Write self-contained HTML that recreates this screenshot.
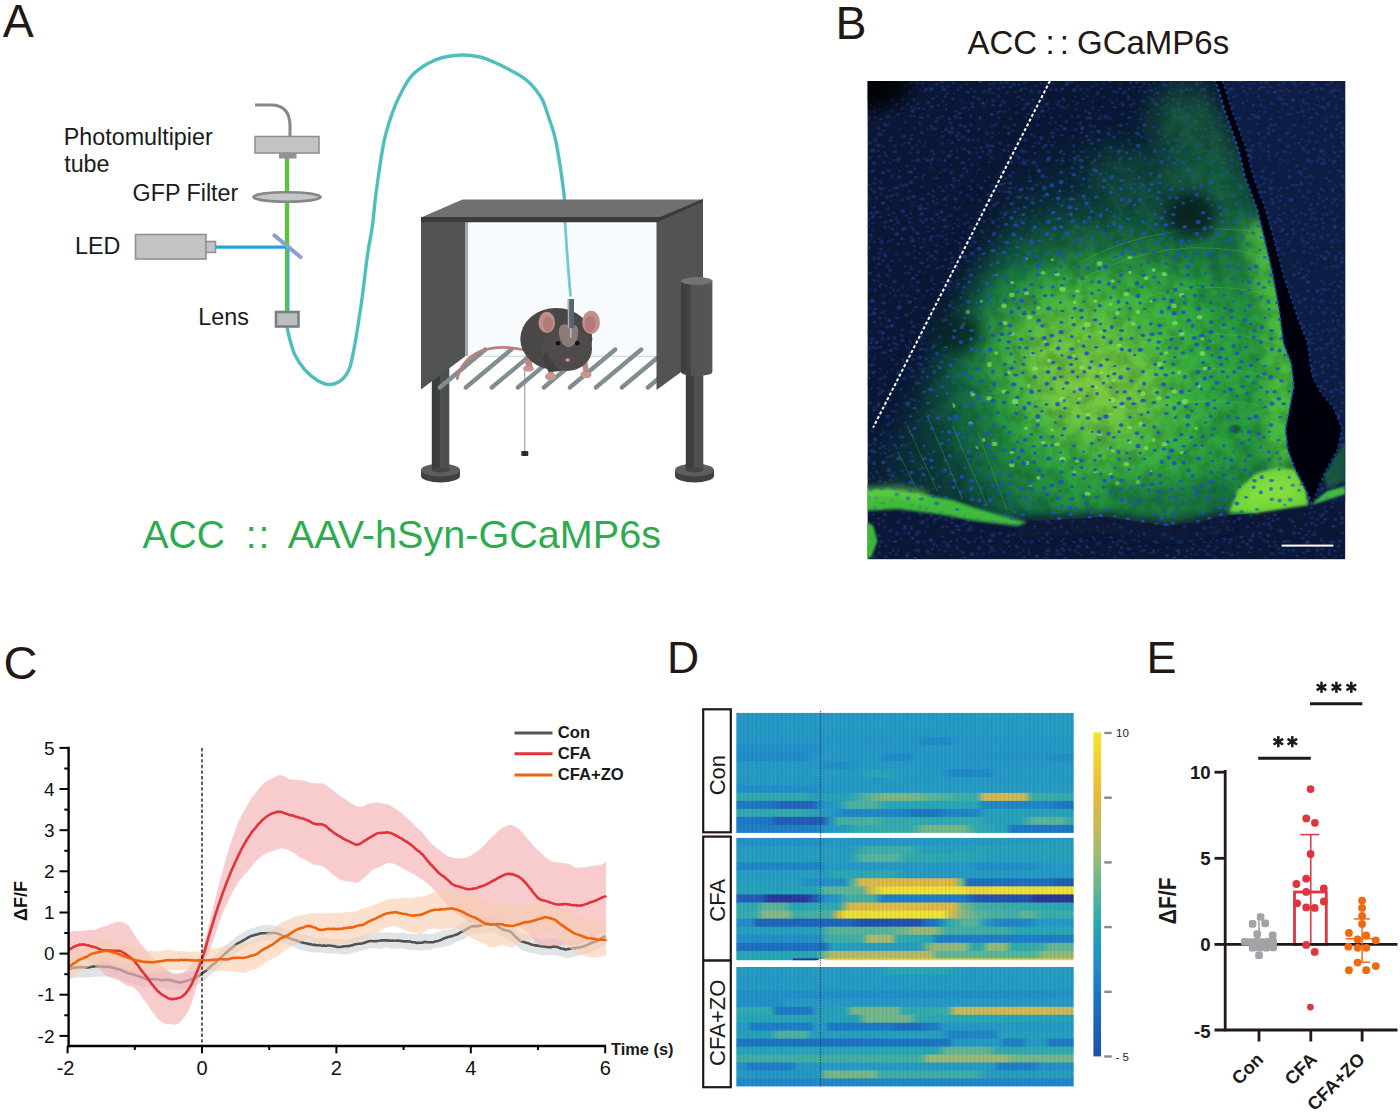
<!DOCTYPE html>
<html><head><meta charset="utf-8"><title>Figure</title>
<style>
html,body{margin:0;padding:0;background:#fff;}
body{width:1400px;height:1114px;overflow:hidden;font-family:"Liberation Sans",sans-serif;}
svg{display:block;font-family:"Liberation Sans",sans-serif;}
</style></head><body>
<svg width="1400" height="1114" viewBox="0 0 1400 1114">
<rect width="1400" height="1114" fill="#fff"/>
<g id="pA">
<text x="2.8" y="37" font-size="46.5" fill="#231815">A</text>
<g font-size="23.3" fill="#1a1a1a">
<text x="63.8" y="145">Photomultipier</text>
<text x="64.2" y="171.5">tube</text>
<text x="132.6" y="200.6">GFP Filter</text>
<text x="75" y="253.6">LED</text>
<text x="198.3" y="324.6">Lens</text>
</g>
<path d="M287.0,326.8 C287.5,329.0 288.7,335.3 290.0,340.0 C291.3,344.7 292.5,350.0 295.0,355.0 C297.5,360.0 301.2,365.8 305.0,370.0 C308.8,374.2 313.5,378.1 317.5,380.5 C321.5,382.9 325.1,384.4 328.8,384.5 C332.6,384.6 336.7,383.6 340.0,381.2 C343.3,378.8 346.5,375.2 348.8,370.0 C351.1,364.8 352.1,358.3 353.8,350.0 C355.5,341.7 357.4,329.2 358.8,320.0 C360.2,310.8 361.1,305.8 362.5,295.0 C363.9,284.2 365.8,266.7 367.5,255.0 C369.2,243.3 371.1,235.5 372.5,225.0 C373.9,214.5 374.3,205.8 376.2,192.0 C378.1,178.2 381.1,155.8 383.8,142.5 C386.5,129.2 389.4,121.2 392.5,112.5 C395.6,103.8 399.2,96.2 402.5,90.0 C405.8,83.8 408.3,79.4 412.5,75.0 C416.7,70.6 422.5,66.7 427.5,63.8 C432.5,60.9 436.7,59.0 442.5,57.5 C448.3,56.0 456.2,55.1 462.5,55.0 C468.8,54.9 474.6,55.8 480.0,57.0 C485.4,58.2 490.0,60.3 495.0,62.5 C500.0,64.7 505.0,67.3 510.0,70.0 C515.0,72.7 520.8,75.7 525.0,78.8 C529.2,81.9 532.1,85.3 535.0,88.8 C537.9,92.3 540.2,95.2 542.5,100.0 C544.8,104.8 546.7,111.2 548.8,117.5 C550.9,123.8 553.1,129.6 555.0,137.5 C556.9,145.4 558.5,155.8 560.0,165.0 C561.5,174.2 563.0,186.2 563.8,192.5 C564.6,198.8 564.5,201.2 564.6,203.0" fill="none" stroke="#4fbfbd" stroke-width="3.4" stroke-linecap="round"/>
<path d="M255,105 H271 Q290,105 290,126 V137" fill="none" stroke="#85888b" stroke-width="3"/>
<rect x="284.8" y="157" width="4.4" height="155" fill="#5fc044"/>
<rect x="287.2" y="247" width="2.2" height="65" fill="#3fb3c0"/>
<rect x="255" y="136.5" width="64" height="16.5" fill="#c3c3c3" stroke="#8f9294" stroke-width="1.6"/>
<rect x="279" y="153" width="17.5" height="5.5" fill="#8f9294"/>
<ellipse cx="287" cy="197" rx="33.5" ry="4.8" fill="#c6c6c6" stroke="#85888b" stroke-width="2.6"/>
<rect x="135.5" y="234.5" width="70.5" height="24.5" fill="#c3c3c3" stroke="#8f9294" stroke-width="1.6"/>
<rect x="206" y="241.5" width="9.5" height="11" fill="#c3c3c3" stroke="#8f9294" stroke-width="1.6"/>
<rect x="216" y="245.5" width="71.5" height="3.2" fill="#1ea4d8"/>
<line x1="274.5" y1="235.5" x2="300.5" y2="257" stroke="#8fa0cf" stroke-width="4.2" stroke-linecap="round"/>
<rect x="276" y="312" width="22.5" height="14.5" fill="#bebebe" stroke="#7c7f82" stroke-width="2.6"/>
<defs><linearGradient id="cylg" x1="0" x2="1" y1="0" y2="0"><stop offset="0" stop-color="#3b3d3d"/><stop offset="0.3" stop-color="#444646"/><stop offset="0.32" stop-color="#525454"/><stop offset="1" stop-color="#545656"/></linearGradient>
<linearGradient id="legg" x1="0" x2="1" y1="0" y2="0"><stop offset="0" stop-color="#3a3c3c"/><stop offset="0.45" stop-color="#3e4040"/><stop offset="0.5" stop-color="#505252"/><stop offset="1" stop-color="#4c4e4e"/></linearGradient></defs>
<path d="M421.0,470 v6 a19.5,6.5 0 0 0 39,0 v-6 z" fill="#3f4141"/>
<ellipse cx="440.5" cy="470" rx="19.5" ry="6.5" fill="#5d5f5f"/>
<rect x="431.8" y="360" width="17.5" height="110" fill="url(#legg)"/>
<ellipse cx="440.5" cy="470" rx="8.75" ry="2.6" fill="#444646"/>
<rect x="465" y="221" width="192" height="136" fill="#f7fbfd"/>
<rect x="465" y="222" width="3" height="134" fill="#a3a9ac"/>
<line x1="468" y1="356.3" x2="656" y2="356.3" stroke="#d3d9dc" stroke-width="1.2"/>
<path d="M565.0,221.0 C565.2,224.2 565.8,233.8 566.2,240.0 C566.6,246.2 567.0,251.7 567.5,258.0 C568.0,264.3 568.5,271.6 569.0,278.0 C569.5,284.4 570.3,293.4 570.6,296.5" fill="none" stroke="#74c9cc" stroke-width="2.8"/>
<polygon points="421,221 465,221 465,356.5 421,389.5" fill="#525454"/>
<line x1="439.8" y1="387.5" x2="485.3" y2="349.5" stroke="#7f8e8e" stroke-width="4.3" stroke-linecap="round"/>
<line x1="465.8" y1="387.5" x2="511.3" y2="349.5" stroke="#7f8e8e" stroke-width="4.3" stroke-linecap="round"/>
<line x1="491.8" y1="387.5" x2="537.3" y2="349.5" stroke="#7f8e8e" stroke-width="4.3" stroke-linecap="round"/>
<line x1="517.8" y1="387.5" x2="563.3" y2="349.5" stroke="#7f8e8e" stroke-width="4.3" stroke-linecap="round"/>
<line x1="543.8" y1="387.5" x2="589.3" y2="349.5" stroke="#7f8e8e" stroke-width="4.3" stroke-linecap="round"/>
<line x1="569.8" y1="387.5" x2="615.3" y2="349.5" stroke="#7f8e8e" stroke-width="4.3" stroke-linecap="round"/>
<line x1="595.8" y1="387.5" x2="641.3" y2="349.5" stroke="#7f8e8e" stroke-width="4.3" stroke-linecap="round"/>
<line x1="621.8" y1="387.5" x2="667.3" y2="349.5" stroke="#7f8e8e" stroke-width="4.3" stroke-linecap="round"/>
<line x1="647.8" y1="387.5" x2="693.3" y2="349.5" stroke="#7f8e8e" stroke-width="4.3" stroke-linecap="round"/>
<polygon points="656.5,221 703,199.5 703,356 656.5,390" fill="#525454"/>
<polygon points="421,217.5 462.5,199.5 703,199.5 659,217.5" fill="#707070"/>
<polygon points="421,217 659.5,217 703,199 703,201.5 657,222.3 421,222.3" fill="#3a3c3c"/>
<path d="M675.0,470 v6 a19.5,6.5 0 0 0 39,0 v-6 z" fill="#3f4141"/>
<ellipse cx="694.5" cy="470" rx="19.5" ry="6.5" fill="#5d5f5f"/>
<rect x="685.8" y="370" width="17.5" height="100" fill="url(#legg)"/>
<ellipse cx="694.5" cy="470" rx="8.75" ry="2.6" fill="#444646"/>
<path d="M681,281 V372 a15.7,4 0 0 0 31.4,0 V281 z" fill="url(#cylg)"/>
<ellipse cx="696.7" cy="281" rx="15.7" ry="4" fill="#727474"/>
<path d="M522,349.5 C508,346.5 492,347 480,351.5 C468,356.5 459.5,367 457.3,378.5" fill="none" stroke="#b9817b" stroke-width="2.8" stroke-linecap="round"/>
<line x1="524.8" y1="368" x2="524.8" y2="452" stroke="#8c8c8c" stroke-width="1"/>
<rect x="521.3" y="451" width="7" height="5" rx="1" fill="#2e2e2e"/>
<ellipse cx="528.5" cy="368.5" rx="5.5" ry="3.2" fill="#c99590"/>
<ellipse cx="550.5" cy="376.5" rx="5.5" ry="4" fill="#c99590"/>
<ellipse cx="586" cy="374.5" rx="5.5" ry="3.8" fill="#c99590"/>
<path d="M546,362 l2.5,12 h5 l-0.5,-12z M581,360 l2.5,12 h5.5 l-2,-13z M524,360 l2.5,7 h6 l-1,-8z" fill="#bd8a86"/>
<ellipse cx="556.3" cy="339" rx="36" ry="31" fill="#4a4747"/>
<ellipse cx="567" cy="349" rx="25" ry="22" fill="#4f4b4b"/>
<path d="M546,352 q6,14 16,19 l-13,1 q-6,-8 -6,-16z" fill="#423f3f"/>
<ellipse cx="546.8" cy="322.4" rx="8.3" ry="10.6" fill="#c38e8a"/>
<ellipse cx="548" cy="324" rx="5" ry="7.5" fill="#b27b78"/>
<ellipse cx="591" cy="322.4" rx="8.9" ry="11.6" fill="#c38e8a"/>
<ellipse cx="590" cy="324" rx="5.4" ry="8" fill="#b27b78"/>
<path d="M559,330 q0,-5 5,-5.5 h9 q5,0.5 5,5.5 q0.5,8 -3,13 q-3,4 -6.5,4 q-3.500,0 -6.500,-4 q-3.500,-5 -3,-13z" fill="#8c7b79"/>
<circle cx="558" cy="343.3" r="2.3" fill="#111"/><circle cx="577.3" cy="343.3" r="2.3" fill="#111"/>
<ellipse cx="567.6" cy="360" rx="2.4" ry="1.7" fill="#d38f8f"/>
<rect x="567.8" y="299" width="6.2" height="29.500" fill="#5c636b"/>
<rect x="567.8" y="299" width="1.4" height="29.500" fill="#aab0b6"/>
<line x1="570.8" y1="328" x2="570.8" y2="338" stroke="#b9b9b9" stroke-width="1.6"/>
<g font-size="39" fill="#2eab4f">
<text x="142.5" y="548">ACC</text><text x="245.8" y="548">:</text><text x="258.6" y="548">:</text><text x="287.8" y="548" font-size="39.6">AAV-hSyn-GCaMP6s</text>
</g>
</g>
<g id="pB">
<text x="835.5" y="38.8" font-size="46.5" fill="#231815">B</text>
<g font-size="33" fill="#231815"><text x="967.5" y="54">ACC</text><text x="1045.6" y="54">:</text><text x="1059.8" y="54">:</text><text x="1077" y="54">GCaMP6s</text></g>
<svg x="867.4" y="81" width="478" height="478.4" viewBox="0 0 478 478.4" overflow="hidden">
<defs>
<filter id="fBlur14" filterUnits="userSpaceOnUse" x="-80" y="-80" width="640" height="640"><feGaussianBlur stdDeviation="14"/></filter>
<filter id="fBlur8" filterUnits="userSpaceOnUse" x="-80" y="-80" width="640" height="640"><feGaussianBlur stdDeviation="8"/></filter>
<filter id="fBlur4" filterUnits="userSpaceOnUse" x="-80" y="-80" width="640" height="640"><feGaussianBlur stdDeviation="4"/></filter>
<filter id="fBlur2" filterUnits="userSpaceOnUse" x="-80" y="-80" width="640" height="640"><feGaussianBlur stdDeviation="1.6"/></filter>
<filter id="fBlur05" x="0" y="0" width="100%" height="100%"><feGaussianBlur stdDeviation="0.55"/></filter>
<filter id="fBlur1" x="-5%" y="-5%" width="110%" height="110%"><feGaussianBlur stdDeviation="0.8"/></filter>
<filter id="spkBlue" x="0" y="0" width="100%" height="100%" color-interpolation-filters="sRGB">
 <feTurbulence type="fractalNoise" baseFrequency="0.17" numOctaves="1" seed="7" result="n"/>
 <feColorMatrix in="n" type="matrix" values="0 0 0 0 0.12  0 0 0 0 0.33  0 0 0 0 0.82  7 0 0 0 -4.12"/>
 <feGaussianBlur stdDeviation="0.5"/>
</filter>
<filter id="spkGray" x="0" y="0" width="100%" height="100%" color-interpolation-filters="sRGB">
 <feTurbulence type="fractalNoise" baseFrequency="0.19" numOctaves="1" seed="23" result="n"/>
 <feColorMatrix in="n" type="matrix" values="0 0 0 0 0.13  0 0 0 0 0.19  0 0 0 0 0.44  0 5 0 0 -2.66"/>
 <feGaussianBlur stdDeviation="0.5"/>
</filter>
<filter id="gtex" x="0" y="0" width="100%" height="100%" color-interpolation-filters="sRGB">
 <feTurbulence type="fractalNoise" baseFrequency="0.07" numOctaves="3" seed="11" result="n"/>
 <feColorMatrix in="n" type="matrix" values="0 0 0 0 0.02  0 0 0 0 0.10  0 0 0 0 0.10  0 0 2.6 0 -1.0"/>
</filter>
<filter id="gbright" x="0" y="0" width="100%" height="100%" color-interpolation-filters="sRGB">
 <feTurbulence type="fractalNoise" baseFrequency="0.11" numOctaves="2" seed="31" result="n"/>
 <feColorMatrix in="n" type="matrix" values="0 0 0 0 0.62  0 0 0 0 0.95  0 0 0 0 0.35  8 0 0 0 -5.1"/>
</filter>
<radialGradient id="gHalo" cx="245" cy="300" r="275" gradientUnits="userSpaceOnUse"><stop offset="0" stop-color="#12603a" stop-opacity="0.85"/><stop offset="0.6" stop-color="#115a3a" stop-opacity="0.75"/><stop offset="0.85" stop-color="#0e4a3c" stop-opacity="0.4"/><stop offset="1" stop-color="#0b3a40" stop-opacity="0"/></radialGradient>
<radialGradient id="gMain" cx="266" cy="300" r="222" gradientUnits="userSpaceOnUse">
 <stop offset="0" stop-color="#44bc43"/><stop offset="0.30" stop-color="#34ad40"/><stop offset="0.56" stop-color="#289c3e"/><stop offset="0.74" stop-color="#1a7c40" stop-opacity="0.9"/><stop offset="0.88" stop-color="#0f5842" stop-opacity="0.5"/><stop offset="1" stop-color="#0b3a40" stop-opacity="0"/>
</radialGradient>
<radialGradient id="gCore" cx="222" cy="295" r="128" gradientUnits="userSpaceOnUse" gradientTransform="translate(222 295) rotate(40) scale(1 0.8) translate(-222 -295)">
 <stop offset="0" stop-color="#80cc40" stop-opacity="1"/><stop offset="0.45" stop-color="#70c840" stop-opacity="0.9"/><stop offset="0.72" stop-color="#54bd40" stop-opacity="0.5"/><stop offset="1" stop-color="#40b840" stop-opacity="0"/>
</radialGradient>
<radialGradient id="dspot"><stop offset="0" stop-color="#08201f" stop-opacity="0.96"/><stop offset="0.45" stop-color="#08221f" stop-opacity="0.85"/><stop offset="1" stop-color="#0a2a2c" stop-opacity="0"/></radialGradient>
<radialGradient id="corner" cx="0" cy="0" r="58" gradientUnits="userSpaceOnUse" gradientTransform="scale(1 0.7)"><stop offset="0" stop-color="#000" stop-opacity="1"/><stop offset="0.5" stop-color="#000" stop-opacity="0.8"/><stop offset="1" stop-color="#000" stop-opacity="0"/></radialGradient>
<pattern id="pdBlue" width="150" height="150" patternUnits="userSpaceOnUse"><g fill="#1f52c4"><ellipse cx="93.4" cy="111.3" rx="1.8" ry="2.1"/><ellipse cx="141.4" cy="111.0" rx="2.2" ry="1.8"/><ellipse cx="4.4" cy="69.8" rx="2.5" ry="2.3"/><ellipse cx="97.3" cy="135.1" rx="1.6" ry="1.1"/><ellipse cx="70.4" cy="37.0" rx="2.4" ry="1.6"/><ellipse cx="86.1" cy="2.0" rx="1.7" ry="1.5"/><ellipse cx="86.1" cy="152.0" rx="1.7" ry="1.5"/><ellipse cx="41.9" cy="137.5" rx="2.0" ry="1.8"/><ellipse cx="23.9" cy="119.6" rx="1.4" ry="1.2"/><ellipse cx="92.6" cy="19.0" rx="1.1" ry="1.3"/><ellipse cx="130.7" cy="31.4" rx="1.6" ry="1.6"/><ellipse cx="147.4" cy="130.9" rx="1.4" ry="1.4"/><ellipse cx="-2.6" cy="130.9" rx="1.4" ry="1.4"/><ellipse cx="144.2" cy="80.9" rx="1.8" ry="2.1"/><ellipse cx="30.7" cy="141.1" rx="2.4" ry="2.1"/><ellipse cx="44.8" cy="54.2" rx="1.6" ry="1.2"/><ellipse cx="21.9" cy="9.8" rx="1.7" ry="1.4"/><ellipse cx="101.7" cy="50.7" rx="1.4" ry="1.5"/><ellipse cx="122.8" cy="72.1" rx="1.6" ry="1.3"/><ellipse cx="72.2" cy="105.7" rx="1.5" ry="1.5"/><ellipse cx="146.3" cy="3.4" rx="2.6" ry="1.9"/><ellipse cx="126.7" cy="2.7" rx="1.8" ry="2.1"/><ellipse cx="126.7" cy="152.7" rx="1.8" ry="2.1"/><ellipse cx="54.9" cy="86.8" rx="1.2" ry="1.3"/><ellipse cx="7.0" cy="27.1" rx="1.9" ry="2.4"/><ellipse cx="29.5" cy="113.4" rx="2.4" ry="2.0"/><ellipse cx="141.3" cy="51.7" rx="1.6" ry="1.6"/><ellipse cx="78.7" cy="116.3" rx="1.9" ry="1.3"/><ellipse cx="112.3" cy="119.6" rx="2.0" ry="2.0"/><ellipse cx="5.5" cy="141.9" rx="1.8" ry="1.3"/><ellipse cx="46.9" cy="47.5" rx="1.7" ry="1.6"/><ellipse cx="11.7" cy="22.3" rx="1.9" ry="2.0"/><ellipse cx="149.5" cy="24.2" rx="1.5" ry="1.1"/><ellipse cx="-0.5" cy="24.2" rx="1.5" ry="1.1"/><ellipse cx="60.9" cy="35.6" rx="1.6" ry="2.0"/><ellipse cx="63.3" cy="8.4" rx="2.3" ry="2.0"/><ellipse cx="125.8" cy="19.6" rx="2.6" ry="1.9"/><ellipse cx="142.5" cy="94.6" rx="2.2" ry="1.8"/><ellipse cx="16.0" cy="65.2" rx="1.8" ry="1.3"/><ellipse cx="126.7" cy="44.2" rx="1.9" ry="1.8"/><ellipse cx="146.4" cy="68.0" rx="2.0" ry="1.5"/><ellipse cx="109.4" cy="71.9" rx="1.5" ry="1.6"/><ellipse cx="60.6" cy="22.0" rx="2.0" ry="1.4"/><ellipse cx="148.3" cy="144.0" rx="2.5" ry="1.6"/><ellipse cx="-1.7" cy="144.0" rx="2.5" ry="1.6"/><ellipse cx="74.9" cy="50.8" rx="1.3" ry="1.1"/><ellipse cx="40.8" cy="117.3" rx="2.2" ry="2.1"/><ellipse cx="54.2" cy="117.9" rx="2.6" ry="1.7"/><ellipse cx="104.2" cy="99.6" rx="2.4" ry="1.6"/><ellipse cx="54.5" cy="105.7" rx="1.8" ry="1.4"/><ellipse cx="103.6" cy="44.1" rx="2.2" ry="1.8"/><ellipse cx="97.5" cy="87.1" rx="1.6" ry="1.1"/><ellipse cx="82.0" cy="37.6" rx="2.3" ry="1.7"/><ellipse cx="69.4" cy="122.5" rx="2.2" ry="1.9"/><ellipse cx="119.6" cy="52.2" rx="2.1" ry="2.0"/><ellipse cx="52.5" cy="126.4" rx="2.7" ry="1.8"/><ellipse cx="103.3" cy="146.4" rx="2.2" ry="2.3"/><ellipse cx="77.7" cy="79.4" rx="1.3" ry="1.3"/><ellipse cx="125.5" cy="140.6" rx="1.8" ry="1.9"/><ellipse cx="103.7" cy="108.0" rx="1.8" ry="2.0"/><ellipse cx="87.1" cy="99.8" rx="2.1" ry="1.7"/><ellipse cx="66.2" cy="97.5" rx="1.3" ry="1.6"/><ellipse cx="33.9" cy="8.1" rx="1.4" ry="1.5"/><ellipse cx="47.6" cy="27.2" rx="1.7" ry="1.4"/><ellipse cx="88.5" cy="35.7" rx="2.7" ry="2.1"/><ellipse cx="0.1" cy="60.8" rx="1.6" ry="1.6"/><ellipse cx="150.1" cy="60.8" rx="1.6" ry="1.6"/><ellipse cx="124.7" cy="56.1" rx="1.5" ry="1.4"/><ellipse cx="81.8" cy="50.9" rx="2.1" ry="1.9"/><ellipse cx="143.7" cy="122.8" rx="1.6" ry="1.6"/><ellipse cx="121.9" cy="96.3" rx="1.4" ry="1.7"/><ellipse cx="21.3" cy="89.4" rx="2.2" ry="1.9"/><ellipse cx="91.3" cy="52.7" rx="1.8" ry="2.0"/><ellipse cx="0.1" cy="16.2" rx="2.0" ry="1.5"/><ellipse cx="150.1" cy="16.2" rx="2.0" ry="1.5"/><ellipse cx="56.4" cy="64.8" rx="1.4" ry="1.6"/><ellipse cx="43.7" cy="145.9" rx="2.1" ry="1.4"/><ellipse cx="144.2" cy="137.1" rx="2.3" ry="1.8"/><ellipse cx="74.4" cy="62.3" rx="1.7" ry="1.6"/><ellipse cx="43.0" cy="71.5" rx="1.4" ry="1.2"/><ellipse cx="93.3" cy="66.5" rx="1.3" ry="1.6"/><ellipse cx="117.3" cy="124.0" rx="1.5" ry="1.3"/><ellipse cx="140.3" cy="117.3" rx="1.7" ry="1.4"/><ellipse cx="40.2" cy="23.2" rx="2.2" ry="2.2"/><ellipse cx="44.0" cy="91.2" rx="1.8" ry="1.7"/><ellipse cx="111.5" cy="17.7" rx="2.4" ry="1.9"/><ellipse cx="45.1" cy="80.0" rx="1.9" ry="1.3"/><ellipse cx="111.8" cy="88.6" rx="1.3" ry="1.4"/><ellipse cx="137.5" cy="133.2" rx="1.7" ry="1.5"/><ellipse cx="2.2" cy="116.8" rx="1.4" ry="1.7"/><ellipse cx="152.2" cy="116.8" rx="1.4" ry="1.7"/><ellipse cx="86.3" cy="106.2" rx="1.7" ry="1.8"/><ellipse cx="72.3" cy="136.8" rx="1.8" ry="1.7"/><ellipse cx="58.8" cy="127.8" rx="1.6" ry="1.4"/><ellipse cx="44.5" cy="124.5" rx="1.2" ry="1.4"/><ellipse cx="125.4" cy="104.2" rx="2.1" ry="1.7"/><ellipse cx="136.6" cy="21.4" rx="2.2" ry="1.7"/><ellipse cx="82.4" cy="74.7" rx="1.9" ry="1.7"/><ellipse cx="121.8" cy="10.3" rx="1.7" ry="1.2"/><ellipse cx="122.9" cy="118.8" rx="2.5" ry="2.1"/><ellipse cx="3.8" cy="108.4" rx="2.1" ry="1.8"/><ellipse cx="7.3" cy="126.3" rx="1.5" ry="1.2"/><ellipse cx="96.9" cy="142.8" rx="2.0" ry="1.6"/><ellipse cx="20.2" cy="43.9" rx="2.0" ry="1.7"/><ellipse cx="93.4" cy="6.5" rx="1.5" ry="1.2"/><ellipse cx="56.9" cy="10.8" rx="1.6" ry="1.2"/><ellipse cx="64.8" cy="47.2" rx="1.7" ry="2.0"/><ellipse cx="104.6" cy="22.7" rx="2.4" ry="1.9"/><ellipse cx="83.2" cy="93.1" rx="1.5" ry="1.4"/><ellipse cx="112.6" cy="77.5" rx="1.5" ry="1.3"/><ellipse cx="35.2" cy="55.7" rx="1.7" ry="1.8"/><ellipse cx="26.9" cy="107.0" rx="2.3" ry="1.9"/><ellipse cx="12.8" cy="100.2" rx="1.8" ry="1.4"/><ellipse cx="35.8" cy="131.5" rx="2.1" ry="1.8"/><ellipse cx="142.8" cy="102.2" rx="2.0" ry="1.6"/><ellipse cx="17.4" cy="145.9" rx="2.0" ry="1.9"/><ellipse cx="120.7" cy="65.0" rx="2.4" ry="2.2"/><ellipse cx="77.6" cy="88.9" rx="2.2" ry="1.7"/><ellipse cx="111.0" cy="59.3" rx="1.3" ry="1.2"/><ellipse cx="5.9" cy="133.4" rx="1.7" ry="1.7"/><ellipse cx="114.1" cy="0.1" rx="2.1" ry="1.5"/><ellipse cx="114.1" cy="150.1" rx="2.1" ry="1.5"/><ellipse cx="133.5" cy="92.9" rx="1.9" ry="1.8"/><ellipse cx="69.8" cy="15.0" rx="1.5" ry="1.2"/><ellipse cx="23.9" cy="56.2" rx="1.9" ry="1.5"/><ellipse cx="38.1" cy="41.6" rx="1.3" ry="1.3"/><ellipse cx="43.1" cy="35.3" rx="1.5" ry="1.5"/><ellipse cx="55.3" cy="140.7" rx="2.0" ry="1.6"/><ellipse cx="101.1" cy="70.8" rx="1.8" ry="2.1"/><ellipse cx="43.7" cy="101.2" rx="2.6" ry="2.1"/><ellipse cx="24.5" cy="30.2" rx="1.3" ry="1.4"/><ellipse cx="60.2" cy="146.0" rx="1.4" ry="1.4"/><ellipse cx="42.5" cy="109.9" rx="1.7" ry="1.6"/><ellipse cx="9.1" cy="116.9" rx="1.9" ry="1.7"/><ellipse cx="6.7" cy="82.3" rx="2.4" ry="2.3"/><ellipse cx="14.1" cy="10.7" rx="2.3" ry="2.3"/><ellipse cx="8.1" cy="36.5" rx="1.6" ry="1.3"/><ellipse cx="45.9" cy="7.7" rx="1.2" ry="1.2"/><ellipse cx="79.7" cy="12.7" rx="1.7" ry="1.7"/><ellipse cx="16.2" cy="81.3" rx="2.1" ry="1.9"/><ellipse cx="89.7" cy="128.5" rx="1.9" ry="1.2"/><ellipse cx="56.5" cy="93.8" rx="2.2" ry="1.7"/><ellipse cx="136.9" cy="46.1" rx="2.0" ry="1.7"/><ellipse cx="124.0" cy="33.6" rx="1.3" ry="1.4"/><ellipse cx="46.9" cy="19.5" rx="1.4" ry="1.2"/><ellipse cx="64.3" cy="86.5" rx="1.9" ry="1.6"/><ellipse cx="83.4" cy="134.4" rx="1.9" ry="1.9"/><ellipse cx="4.1" cy="7.6" rx="1.3" ry="1.4"/><ellipse cx="34.7" cy="64.3" rx="1.4" ry="1.6"/><ellipse cx="49.6" cy="1.9" rx="2.4" ry="1.8"/><ellipse cx="49.6" cy="151.9" rx="2.4" ry="1.8"/><ellipse cx="66.9" cy="140.8" rx="1.8" ry="1.9"/><ellipse cx="137.2" cy="69.1" rx="1.8" ry="1.6"/><ellipse cx="66.2" cy="115.1" rx="2.0" ry="1.9"/><ellipse cx="79.9" cy="145.4" rx="2.0" ry="1.5"/><ellipse cx="15.5" cy="122.1" rx="2.0" ry="1.5"/><ellipse cx="112.7" cy="36.2" rx="1.6" ry="1.3"/><ellipse cx="37.2" cy="147.4" rx="2.1" ry="2.2"/><ellipse cx="37.2" cy="-2.6" rx="2.1" ry="2.2"/><ellipse cx="14.8" cy="107.7" rx="2.1" ry="1.7"/><ellipse cx="1.5" cy="76.8" rx="1.9" ry="2.0"/><ellipse cx="151.5" cy="76.8" rx="1.9" ry="2.0"/><ellipse cx="101.9" cy="78.3" rx="1.4" ry="1.4"/><ellipse cx="113.9" cy="107.2" rx="1.5" ry="1.6"/><ellipse cx="107.4" cy="10.8" rx="2.1" ry="1.6"/><ellipse cx="134.6" cy="103.2" rx="2.6" ry="1.8"/><ellipse cx="31.3" cy="77.5" rx="2.5" ry="2.0"/><ellipse cx="81.6" cy="59.0" rx="1.7" ry="1.1"/><ellipse cx="25.1" cy="94.9" rx="1.9" ry="1.8"/><ellipse cx="131.8" cy="109.2" rx="1.6" ry="1.8"/><ellipse cx="63.8" cy="79.3" rx="2.3" ry="1.9"/><ellipse cx="90.8" cy="145.0" rx="1.6" ry="1.5"/><ellipse cx="34.4" cy="104.5" rx="2.3" ry="1.9"/><ellipse cx="29.0" cy="23.5" rx="1.6" ry="1.4"/><ellipse cx="138.6" cy="143.5" rx="2.0" ry="1.7"/><ellipse cx="17.5" cy="71.9" rx="1.5" ry="1.5"/><ellipse cx="110.6" cy="137.8" rx="2.1" ry="1.5"/><ellipse cx="104.5" cy="118.4" rx="1.9" ry="1.8"/><ellipse cx="127.2" cy="77.9" rx="1.5" ry="1.1"/><ellipse cx="99.9" cy="11.0" rx="1.7" ry="1.6"/><ellipse cx="13.8" cy="53.4" rx="1.8" ry="1.7"/><ellipse cx="57.4" cy="77.5" rx="1.7" ry="1.4"/><ellipse cx="66.4" cy="70.8" rx="1.2" ry="1.1"/><ellipse cx="7.9" cy="58.9" rx="2.3" ry="1.8"/><ellipse cx="149.1" cy="32.5" rx="2.0" ry="1.4"/><ellipse cx="-0.9" cy="32.5" rx="2.0" ry="1.4"/><ellipse cx="18.5" cy="25.4" rx="1.8" ry="1.5"/><ellipse cx="29.5" cy="2.8" rx="2.1" ry="2.1"/><ellipse cx="29.5" cy="152.8" rx="2.1" ry="2.1"/><ellipse cx="20.5" cy="35.5" rx="2.4" ry="2.2"/><ellipse cx="27.7" cy="64.4" rx="2.0" ry="1.5"/><ellipse cx="116.3" cy="22.8" rx="2.3" ry="1.5"/><ellipse cx="96.5" cy="56.2" rx="1.8" ry="1.5"/><ellipse cx="75.1" cy="5.7" rx="1.9" ry="1.4"/><ellipse cx="139.8" cy="11.6" rx="2.2" ry="1.6"/><ellipse cx="74.2" cy="130.7" rx="1.7" ry="1.4"/><ellipse cx="97.6" cy="26.2" rx="1.9" ry="1.3"/><ellipse cx="53.6" cy="133.5" rx="2.0" ry="1.7"/><ellipse cx="94.4" cy="96.1" rx="2.0" ry="2.2"/></g></pattern><pattern id="pdGray" width="130" height="130" patternUnits="userSpaceOnUse"><g fill="#222f6a"><ellipse cx="60.2" cy="48.5" rx="1.1" ry="1.2"/><ellipse cx="112.7" cy="0.8" rx="1.7" ry="1.4"/><ellipse cx="112.7" cy="130.8" rx="1.7" ry="1.4"/><ellipse cx="116.8" cy="10.5" rx="1.6" ry="1.4"/><ellipse cx="80.2" cy="5.3" rx="1.5" ry="1.1"/><ellipse cx="91.5" cy="58.8" rx="2.0" ry="1.5"/><ellipse cx="20.4" cy="30.9" rx="0.9" ry="1.2"/><ellipse cx="65.8" cy="120.1" rx="1.4" ry="1.6"/><ellipse cx="100.6" cy="49.9" rx="2.1" ry="1.6"/><ellipse cx="13.2" cy="37.9" rx="1.9" ry="1.4"/><ellipse cx="94.3" cy="54.8" rx="1.0" ry="1.1"/><ellipse cx="34.7" cy="27.3" rx="1.5" ry="1.3"/><ellipse cx="105.2" cy="25.9" rx="1.9" ry="1.5"/><ellipse cx="49.2" cy="63.9" rx="1.3" ry="1.1"/><ellipse cx="55.2" cy="117.8" rx="1.1" ry="1.1"/><ellipse cx="77.6" cy="15.8" rx="1.4" ry="1.7"/><ellipse cx="116.4" cy="26.4" rx="1.2" ry="0.8"/><ellipse cx="10.9" cy="70.2" rx="1.2" ry="1.0"/><ellipse cx="11.0" cy="64.6" rx="2.0" ry="1.8"/><ellipse cx="54.6" cy="51.8" rx="2.1" ry="1.6"/><ellipse cx="12.1" cy="75.4" rx="1.3" ry="1.3"/><ellipse cx="79.2" cy="124.6" rx="1.2" ry="1.1"/><ellipse cx="72.2" cy="78.8" rx="1.3" ry="1.2"/><ellipse cx="34.9" cy="129.3" rx="2.3" ry="1.8"/><ellipse cx="34.9" cy="-0.7" rx="2.3" ry="1.8"/><ellipse cx="15.8" cy="91.7" rx="2.0" ry="1.6"/><ellipse cx="30.8" cy="79.4" rx="1.2" ry="1.1"/><ellipse cx="47.6" cy="87.6" rx="1.6" ry="1.3"/><ellipse cx="100.7" cy="11.3" rx="1.6" ry="1.3"/><ellipse cx="112.3" cy="75.9" rx="1.7" ry="1.2"/><ellipse cx="52.3" cy="128.2" rx="2.0" ry="1.5"/><ellipse cx="52.3" cy="-1.8" rx="2.0" ry="1.5"/><ellipse cx="2.4" cy="103.9" rx="1.6" ry="1.1"/><ellipse cx="132.4" cy="103.9" rx="1.6" ry="1.1"/><ellipse cx="56.4" cy="27.7" rx="1.4" ry="1.3"/><ellipse cx="42.2" cy="11.5" rx="1.3" ry="1.7"/><ellipse cx="13.4" cy="101.9" rx="1.0" ry="0.9"/><ellipse cx="101.5" cy="105.0" rx="1.8" ry="1.3"/><ellipse cx="92.2" cy="32.3" rx="1.9" ry="1.7"/><ellipse cx="125.3" cy="52.1" rx="1.3" ry="1.1"/><ellipse cx="111.8" cy="48.0" rx="1.9" ry="1.7"/><ellipse cx="22.2" cy="109.6" rx="1.5" ry="1.0"/><ellipse cx="6.6" cy="126.8" rx="1.2" ry="1.1"/><ellipse cx="123.0" cy="128.2" rx="1.3" ry="1.6"/><ellipse cx="123.0" cy="-1.8" rx="1.3" ry="1.6"/><ellipse cx="1.5" cy="7.9" rx="1.5" ry="1.3"/><ellipse cx="131.5" cy="7.9" rx="1.5" ry="1.3"/><ellipse cx="50.6" cy="79.5" rx="2.4" ry="2.0"/><ellipse cx="46.1" cy="18.3" rx="1.5" ry="1.5"/><ellipse cx="17.8" cy="11.3" rx="1.9" ry="1.2"/><ellipse cx="90.5" cy="8.5" rx="1.2" ry="1.5"/><ellipse cx="91.5" cy="99.3" rx="1.2" ry="1.4"/><ellipse cx="115.3" cy="22.0" rx="1.7" ry="1.4"/><ellipse cx="100.3" cy="114.4" rx="1.5" ry="1.5"/><ellipse cx="12.9" cy="6.3" rx="1.7" ry="1.2"/><ellipse cx="22.5" cy="81.9" rx="1.4" ry="1.0"/><ellipse cx="101.4" cy="28.9" rx="1.3" ry="1.0"/><ellipse cx="22.9" cy="59.4" rx="1.9" ry="1.5"/><ellipse cx="50.5" cy="22.5" rx="1.5" ry="1.6"/><ellipse cx="123.0" cy="69.6" rx="2.5" ry="1.8"/><ellipse cx="115.6" cy="70.8" rx="1.6" ry="1.4"/><ellipse cx="69.8" cy="118.2" rx="1.3" ry="0.9"/><ellipse cx="83.6" cy="70.5" rx="1.7" ry="1.2"/><ellipse cx="94.2" cy="93.7" rx="1.5" ry="1.1"/><ellipse cx="63.7" cy="82.8" rx="1.4" ry="1.1"/><ellipse cx="78.4" cy="48.5" rx="1.8" ry="1.5"/><ellipse cx="30.0" cy="107.0" rx="1.9" ry="1.6"/><ellipse cx="81.2" cy="113.9" rx="1.1" ry="0.9"/><ellipse cx="77.6" cy="79.7" rx="1.6" ry="1.3"/><ellipse cx="52.9" cy="9.0" rx="1.3" ry="1.1"/><ellipse cx="79.1" cy="23.6" rx="1.1" ry="1.1"/><ellipse cx="69.6" cy="3.4" rx="1.8" ry="1.7"/><ellipse cx="43.4" cy="101.8" rx="1.2" ry="1.0"/><ellipse cx="124.0" cy="76.7" rx="2.0" ry="1.6"/><ellipse cx="128.2" cy="108.3" rx="1.3" ry="1.2"/><ellipse cx="-1.8" cy="108.3" rx="1.3" ry="1.2"/><ellipse cx="45.3" cy="30.1" rx="2.3" ry="1.8"/><ellipse cx="25.0" cy="28.8" rx="1.5" ry="1.1"/><ellipse cx="15.6" cy="122.0" rx="2.0" ry="2.1"/><ellipse cx="48.4" cy="96.3" rx="1.7" ry="1.2"/><ellipse cx="67.9" cy="48.0" rx="2.0" ry="1.5"/><ellipse cx="30.7" cy="33.3" rx="1.9" ry="1.4"/><ellipse cx="122.7" cy="2.9" rx="1.3" ry="1.1"/><ellipse cx="122.7" cy="132.9" rx="1.3" ry="1.1"/><ellipse cx="104.0" cy="7.5" rx="1.4" ry="1.3"/><ellipse cx="28.7" cy="7.6" rx="1.3" ry="1.3"/><ellipse cx="39.0" cy="104.0" rx="2.5" ry="1.6"/><ellipse cx="121.0" cy="114.0" rx="2.3" ry="1.8"/><ellipse cx="125.8" cy="12.3" rx="1.4" ry="1.0"/><ellipse cx="63.9" cy="45.1" rx="1.9" ry="1.5"/><ellipse cx="51.9" cy="27.2" rx="1.2" ry="1.2"/><ellipse cx="60.0" cy="79.4" rx="1.8" ry="1.6"/><ellipse cx="52.3" cy="42.3" rx="1.3" ry="1.2"/><ellipse cx="70.7" cy="24.5" rx="1.8" ry="1.3"/><ellipse cx="85.6" cy="17.9" rx="1.6" ry="1.3"/><ellipse cx="43.9" cy="58.1" rx="1.8" ry="1.4"/><ellipse cx="95.4" cy="27.5" rx="1.7" ry="1.3"/><ellipse cx="43.6" cy="2.5" rx="1.3" ry="1.3"/><ellipse cx="43.6" cy="132.5" rx="1.3" ry="1.3"/><ellipse cx="61.2" cy="112.7" rx="1.7" ry="1.2"/><ellipse cx="108.4" cy="66.8" rx="1.3" ry="1.0"/><ellipse cx="93.2" cy="37.0" rx="1.6" ry="1.5"/><ellipse cx="9.3" cy="1.4" rx="2.4" ry="1.8"/><ellipse cx="9.3" cy="131.4" rx="2.4" ry="1.8"/><ellipse cx="5.5" cy="19.4" rx="1.4" ry="1.0"/><ellipse cx="12.5" cy="107.1" rx="1.9" ry="1.5"/><ellipse cx="84.4" cy="51.4" rx="2.0" ry="1.5"/><ellipse cx="65.8" cy="17.5" rx="1.6" ry="1.5"/><ellipse cx="46.7" cy="35.1" rx="1.3" ry="1.1"/><ellipse cx="74.2" cy="1.2" rx="1.7" ry="1.7"/><ellipse cx="74.2" cy="131.2" rx="1.7" ry="1.7"/><ellipse cx="2.6" cy="62.2" rx="2.0" ry="1.8"/><ellipse cx="132.6" cy="62.2" rx="2.0" ry="1.8"/><ellipse cx="88.0" cy="118.1" rx="2.3" ry="1.7"/><ellipse cx="35.5" cy="18.7" rx="1.9" ry="1.4"/><ellipse cx="88.4" cy="30.2" rx="1.6" ry="1.3"/><ellipse cx="97.3" cy="45.2" rx="2.1" ry="1.5"/><ellipse cx="3.4" cy="24.2" rx="1.7" ry="1.7"/><ellipse cx="87.0" cy="12.6" rx="1.0" ry="1.0"/><ellipse cx="27.4" cy="70.6" rx="2.4" ry="1.5"/><ellipse cx="89.2" cy="55.0" rx="1.9" ry="1.6"/><ellipse cx="129.9" cy="121.7" rx="1.9" ry="1.7"/><ellipse cx="-0.1" cy="121.7" rx="1.9" ry="1.7"/><ellipse cx="64.5" cy="7.9" rx="1.7" ry="1.7"/><ellipse cx="51.8" cy="60.3" rx="1.4" ry="1.4"/><ellipse cx="119.3" cy="125.3" rx="1.1" ry="1.1"/><ellipse cx="46.1" cy="115.5" rx="2.2" ry="1.8"/><ellipse cx="126.0" cy="24.2" rx="1.6" ry="1.3"/><ellipse cx="87.2" cy="126.7" rx="1.5" ry="1.2"/><ellipse cx="7.3" cy="111.0" rx="1.9" ry="1.5"/><ellipse cx="38.7" cy="4.7" rx="1.6" ry="1.3"/><ellipse cx="101.3" cy="59.0" rx="2.1" ry="1.7"/><ellipse cx="18.7" cy="74.7" rx="1.4" ry="1.3"/><ellipse cx="75.5" cy="109.8" rx="1.7" ry="1.7"/><ellipse cx="119.9" cy="19.8" rx="1.2" ry="1.1"/><ellipse cx="37.1" cy="62.6" rx="1.1" ry="1.0"/><ellipse cx="110.3" cy="82.7" rx="1.2" ry="1.0"/><ellipse cx="123.4" cy="45.1" rx="1.3" ry="0.8"/><ellipse cx="68.7" cy="40.5" rx="2.3" ry="1.5"/><ellipse cx="26.8" cy="2.0" rx="1.4" ry="1.3"/><ellipse cx="26.8" cy="132.0" rx="1.4" ry="1.3"/><ellipse cx="29.3" cy="23.2" rx="1.7" ry="1.5"/><ellipse cx="83.0" cy="42.0" rx="1.6" ry="1.8"/><ellipse cx="109.2" cy="92.3" rx="1.2" ry="1.1"/><ellipse cx="72.5" cy="91.7" rx="1.1" ry="1.0"/><ellipse cx="122.5" cy="7.7" rx="1.8" ry="1.2"/><ellipse cx="66.1" cy="110.0" rx="1.1" ry="1.2"/><ellipse cx="45.3" cy="67.0" rx="1.7" ry="1.8"/><ellipse cx="69.2" cy="97.2" rx="1.4" ry="1.2"/><ellipse cx="114.5" cy="106.7" rx="2.2" ry="1.8"/><ellipse cx="58.8" cy="8.5" rx="1.8" ry="1.8"/><ellipse cx="53.0" cy="123.9" rx="1.1" ry="1.1"/><ellipse cx="84.2" cy="103.8" rx="1.9" ry="1.6"/><ellipse cx="55.0" cy="2.5" rx="1.9" ry="1.3"/><ellipse cx="55.0" cy="132.5" rx="1.9" ry="1.3"/><ellipse cx="126.6" cy="124.4" rx="2.0" ry="2.0"/><ellipse cx="22.0" cy="3.9" rx="1.6" ry="1.1"/><ellipse cx="1.0" cy="15.4" rx="1.6" ry="1.6"/><ellipse cx="131.0" cy="15.4" rx="1.6" ry="1.6"/><ellipse cx="26.1" cy="79.4" rx="1.2" ry="1.4"/><ellipse cx="24.2" cy="114.7" rx="1.9" ry="1.5"/><ellipse cx="84.9" cy="61.7" rx="1.5" ry="1.6"/><ellipse cx="11.5" cy="53.0" rx="1.6" ry="1.8"/><ellipse cx="84.1" cy="90.7" rx="1.4" ry="1.2"/><ellipse cx="1.6" cy="37.0" rx="1.8" ry="1.4"/><ellipse cx="131.6" cy="37.0" rx="1.8" ry="1.4"/><ellipse cx="113.5" cy="66.4" rx="1.8" ry="1.2"/><ellipse cx="21.0" cy="127.4" rx="1.5" ry="1.5"/><ellipse cx="21.0" cy="-2.6" rx="1.5" ry="1.5"/><ellipse cx="41.4" cy="62.0" rx="1.9" ry="1.7"/><ellipse cx="42.3" cy="90.9" rx="2.4" ry="1.7"/><ellipse cx="124.9" cy="33.2" rx="2.2" ry="1.4"/><ellipse cx="79.1" cy="105.1" rx="1.2" ry="1.1"/><ellipse cx="105.9" cy="58.8" rx="1.3" ry="1.0"/><ellipse cx="112.6" cy="37.3" rx="1.3" ry="1.6"/><ellipse cx="95.4" cy="20.7" rx="1.1" ry="1.1"/><ellipse cx="32.6" cy="48.4" rx="1.1" ry="1.0"/><ellipse cx="92.1" cy="126.6" rx="1.8" ry="1.7"/><ellipse cx="64.1" cy="69.9" rx="1.7" ry="1.3"/><ellipse cx="31.9" cy="90.5" rx="1.2" ry="1.2"/><ellipse cx="128.5" cy="94.5" rx="1.2" ry="1.0"/><ellipse cx="-1.5" cy="94.5" rx="1.2" ry="1.0"/><ellipse cx="2.8" cy="77.8" rx="1.0" ry="0.9"/><ellipse cx="132.8" cy="77.8" rx="1.0" ry="0.9"/><ellipse cx="65.0" cy="78.0" rx="1.5" ry="1.8"/><ellipse cx="50.5" cy="71.0" rx="2.3" ry="1.8"/><ellipse cx="17.5" cy="43.7" rx="2.0" ry="1.6"/><ellipse cx="46.6" cy="120.9" rx="1.1" ry="1.0"/><ellipse cx="11.0" cy="47.2" rx="1.5" ry="1.5"/><ellipse cx="121.9" cy="81.4" rx="1.6" ry="1.1"/><ellipse cx="75.7" cy="20.5" rx="1.0" ry="1.1"/><ellipse cx="103.3" cy="34.7" rx="1.5" ry="1.2"/><ellipse cx="106.6" cy="15.9" rx="1.6" ry="1.3"/><ellipse cx="19.7" cy="116.0" rx="2.0" ry="1.5"/><ellipse cx="23.5" cy="9.4" rx="2.2" ry="1.6"/><ellipse cx="89.7" cy="76.5" rx="1.9" ry="1.2"/><ellipse cx="54.0" cy="36.6" rx="2.0" ry="1.6"/><ellipse cx="83.9" cy="84.2" rx="1.3" ry="0.9"/><ellipse cx="97.0" cy="67.9" rx="1.9" ry="1.4"/><ellipse cx="2.4" cy="30.6" rx="1.4" ry="1.0"/><ellipse cx="132.4" cy="30.6" rx="1.4" ry="1.0"/><ellipse cx="1.1" cy="52.0" rx="0.9" ry="0.9"/><ellipse cx="131.1" cy="52.0" rx="0.9" ry="0.9"/><ellipse cx="104.8" cy="83.7" rx="1.6" ry="1.4"/><ellipse cx="56.7" cy="127.5" rx="1.2" ry="1.0"/><ellipse cx="56.7" cy="-2.5" rx="1.2" ry="1.0"/><ellipse cx="12.2" cy="28.1" rx="1.1" ry="1.1"/><ellipse cx="74.5" cy="35.7" rx="1.4" ry="1.2"/><ellipse cx="102.2" cy="71.4" rx="1.3" ry="1.3"/><ellipse cx="5.3" cy="90.3" rx="2.2" ry="1.8"/><ellipse cx="99.5" cy="90.6" rx="1.6" ry="1.9"/><ellipse cx="120.4" cy="73.7" rx="1.2" ry="1.2"/><ellipse cx="75.3" cy="55.5" rx="1.8" ry="1.4"/><ellipse cx="25.1" cy="18.5" rx="1.9" ry="1.7"/><ellipse cx="89.5" cy="69.3" rx="1.2" ry="1.3"/><ellipse cx="64.3" cy="25.6" rx="1.9" ry="1.5"/><ellipse cx="57.5" cy="61.3" rx="1.0" ry="1.1"/><ellipse cx="55.3" cy="96.7" rx="1.3" ry="1.1"/><ellipse cx="17.6" cy="107.0" rx="1.1" ry="1.1"/><ellipse cx="5.8" cy="6.2" rx="1.8" ry="1.6"/><ellipse cx="76.8" cy="8.7" rx="2.4" ry="1.6"/><ellipse cx="86.5" cy="96.9" rx="1.5" ry="1.2"/><ellipse cx="34.9" cy="118.5" rx="1.6" ry="1.5"/><ellipse cx="27.0" cy="13.6" rx="1.0" ry="1.0"/><ellipse cx="61.6" cy="20.5" rx="1.3" ry="1.1"/><ellipse cx="95.4" cy="81.5" rx="2.5" ry="1.6"/><ellipse cx="93.0" cy="44.4" rx="1.8" ry="1.9"/><ellipse cx="15.8" cy="49.6" rx="1.6" ry="1.2"/><ellipse cx="109.2" cy="114.1" rx="1.0" ry="1.0"/><ellipse cx="37.6" cy="55.2" rx="1.4" ry="1.4"/><ellipse cx="60.3" cy="122.7" rx="1.5" ry="1.3"/><ellipse cx="76.5" cy="70.9" rx="1.4" ry="1.2"/><ellipse cx="7.7" cy="97.8" rx="2.0" ry="1.4"/><ellipse cx="44.0" cy="25.9" rx="1.3" ry="1.0"/><ellipse cx="81.0" cy="75.2" rx="2.1" ry="1.8"/><ellipse cx="77.3" cy="118.2" rx="2.3" ry="1.6"/><ellipse cx="21.8" cy="15.9" rx="1.4" ry="0.9"/><ellipse cx="125.2" cy="65.1" rx="2.1" ry="1.8"/><ellipse cx="6.9" cy="102.4" rx="1.5" ry="1.6"/><ellipse cx="110.9" cy="103.9" rx="1.5" ry="1.1"/><ellipse cx="39.7" cy="84.9" rx="1.5" ry="1.7"/><ellipse cx="84.8" cy="47.0" rx="1.7" ry="1.9"/><ellipse cx="13.5" cy="112.7" rx="1.2" ry="1.3"/><ellipse cx="66.8" cy="73.1" rx="1.8" ry="1.3"/><ellipse cx="6.6" cy="69.5" rx="1.4" ry="1.4"/><ellipse cx="78.7" cy="28.3" rx="1.3" ry="1.3"/><ellipse cx="96.0" cy="88.0" rx="1.5" ry="1.2"/><ellipse cx="7.1" cy="30.8" rx="1.9" ry="1.3"/><ellipse cx="99.3" cy="3.4" rx="1.2" ry="1.1"/><ellipse cx="3.4" cy="1.9" rx="1.6" ry="1.7"/><ellipse cx="3.4" cy="131.9" rx="1.6" ry="1.7"/><ellipse cx="32.0" cy="96.1" rx="2.1" ry="1.8"/><ellipse cx="118.1" cy="100.0" rx="1.4" ry="1.2"/><ellipse cx="130.0" cy="43.1" rx="1.4" ry="1.2"/><ellipse cx="-0.0" cy="43.1" rx="1.4" ry="1.2"/></g></pattern><pattern id="pdCell" width="170" height="170" patternUnits="userSpaceOnUse"><g fill="#a4ea66"><ellipse cx="44.0" cy="116.5" rx="2.3" ry="1.9"/><ellipse cx="144.4" cy="31.6" rx="2.2" ry="1.7"/><ellipse cx="25.0" cy="38.3" rx="3.1" ry="2.5"/><ellipse cx="22.1" cy="90.3" rx="1.7" ry="2.0"/><ellipse cx="50.1" cy="73.4" rx="3.3" ry="2.6"/><ellipse cx="103.4" cy="2.5" rx="2.4" ry="1.9"/><ellipse cx="103.4" cy="172.5" rx="2.4" ry="1.9"/><ellipse cx="24.9" cy="148.1" rx="3.0" ry="2.5"/><ellipse cx="137.0" cy="140.5" rx="2.8" ry="2.1"/><ellipse cx="161.4" cy="134.9" rx="1.7" ry="1.9"/><ellipse cx="144.5" cy="82.8" rx="2.8" ry="2.0"/><ellipse cx="95.9" cy="73.0" rx="2.3" ry="2.0"/><ellipse cx="73.1" cy="53.3" rx="1.9" ry="1.8"/><ellipse cx="167.6" cy="117.5" rx="2.8" ry="2.0"/><ellipse cx="-2.4" cy="117.5" rx="2.8" ry="2.0"/><ellipse cx="127.2" cy="22.9" rx="2.9" ry="2.2"/><ellipse cx="75.4" cy="30.0" rx="2.1" ry="1.7"/><ellipse cx="88.9" cy="43.1" rx="2.8" ry="2.0"/><ellipse cx="40.0" cy="40.1" rx="2.4" ry="1.6"/><ellipse cx="62.3" cy="12.5" rx="2.7" ry="2.5"/><ellipse cx="162.1" cy="66.2" rx="2.8" ry="2.2"/><ellipse cx="158.6" cy="7.3" rx="1.6" ry="1.7"/><ellipse cx="108.6" cy="27.2" rx="2.2" ry="2.1"/><ellipse cx="147.6" cy="150.7" rx="3.1" ry="2.7"/><ellipse cx="63.7" cy="121.8" rx="1.9" ry="1.6"/><ellipse cx="165.1" cy="102.6" rx="2.7" ry="2.5"/><ellipse cx="36.0" cy="104.9" rx="2.0" ry="1.9"/><ellipse cx="100.5" cy="61.1" rx="2.2" ry="2.2"/><ellipse cx="58.0" cy="50.2" rx="1.8" ry="1.9"/><ellipse cx="116.3" cy="19.1" rx="1.8" ry="2.0"/><ellipse cx="11.8" cy="109.4" rx="2.2" ry="1.9"/><ellipse cx="92.4" cy="6.6" rx="2.8" ry="1.7"/><ellipse cx="0.5" cy="169.6" rx="1.6" ry="1.5"/><ellipse cx="0.5" cy="-0.4" rx="1.6" ry="1.5"/><ellipse cx="170.5" cy="169.6" rx="1.6" ry="1.5"/><ellipse cx="170.5" cy="-0.4" rx="1.6" ry="1.5"/><ellipse cx="79.9" cy="62.3" rx="2.2" ry="2.3"/><ellipse cx="1.0" cy="56.9" rx="2.1" ry="1.8"/><ellipse cx="171.0" cy="56.9" rx="2.1" ry="1.8"/><ellipse cx="164.9" cy="87.8" rx="1.8" ry="2.1"/><ellipse cx="113.8" cy="50.4" rx="1.4" ry="1.4"/><ellipse cx="85.2" cy="154.8" rx="2.7" ry="2.6"/><ellipse cx="144.4" cy="44.0" rx="2.7" ry="2.3"/><ellipse cx="128.9" cy="102.0" rx="1.9" ry="1.7"/><ellipse cx="81.7" cy="94.3" rx="2.5" ry="1.7"/><ellipse cx="37.1" cy="51.6" rx="1.8" ry="2.0"/><ellipse cx="5.7" cy="21.8" rx="2.2" ry="1.9"/><ellipse cx="75.1" cy="149.0" rx="3.3" ry="2.3"/><ellipse cx="7.4" cy="91.0" rx="2.1" ry="1.6"/><ellipse cx="136.6" cy="54.9" rx="2.7" ry="2.3"/><ellipse cx="92.7" cy="21.4" rx="1.6" ry="1.6"/><ellipse cx="42.2" cy="147.6" rx="2.0" ry="1.9"/><ellipse cx="58.6" cy="136.3" rx="1.8" ry="1.9"/><ellipse cx="122.1" cy="113.3" rx="2.4" ry="2.6"/><ellipse cx="105.5" cy="142.7" rx="2.4" ry="2.7"/><ellipse cx="19.6" cy="23.3" rx="2.9" ry="1.9"/><ellipse cx="50.9" cy="163.5" rx="2.4" ry="1.7"/><ellipse cx="14.8" cy="8.9" rx="1.6" ry="1.4"/><ellipse cx="121.7" cy="147.3" rx="2.9" ry="2.2"/><ellipse cx="137.5" cy="72.1" rx="2.7" ry="2.2"/><ellipse cx="141.6" cy="121.7" rx="2.0" ry="1.9"/><ellipse cx="159.3" cy="42.0" rx="2.5" ry="2.3"/><ellipse cx="63.8" cy="80.9" rx="1.9" ry="1.4"/><ellipse cx="72.8" cy="163.1" rx="2.1" ry="1.3"/><ellipse cx="41.4" cy="90.2" rx="1.5" ry="1.7"/><ellipse cx="76.4" cy="129.2" rx="2.5" ry="1.8"/></g></pattern><clipPath id="gclip"><path d="M150,-5 L346,-5 L350,0 L358.500,32 L371,65 L380,97 L393,129 L401.500,162 L410,194 L416,230 L418,262 L425,283 L427,305 L423,326 L418.600,348 L421,369 L427,386.500 L438,408 L441,424 L414,428 L388.500,432 L358,434.500 L330,441 L302,444.700 L237,436 L168,440 L108,434 L54,421 L0,414 L-5,414 L-5,330 Z"/></clipPath>
<radialGradient id="dmg" cx="240" cy="300" r="262" gradientUnits="userSpaceOnUse"><stop offset="0" stop-color="#fff"/><stop offset="0.62" stop-color="#fff"/><stop offset="0.9" stop-color="#555"/><stop offset="1" stop-color="#000"/></radialGradient>
<mask id="dmask" maskUnits="userSpaceOnUse" x="0" y="0" width="478" height="478.4"><g filter="url(#fBlur14)"><path d="M215,-40 L500,-40 L500,500 L-40,500 L-40,400 L30,355 Z" fill="url(#dmg)"/></g></mask>
<linearGradient id="vatt" x1="0" y1="0" x2="0" y2="478" gradientUnits="userSpaceOnUse"><stop offset="0" stop-color="#222"/><stop offset="0.12" stop-color="#3a3a3a"/><stop offset="0.27" stop-color="#8a8a8a"/><stop offset="0.42" stop-color="#fff"/><stop offset="1" stop-color="#fff"/></linearGradient>
<mask id="vmask" maskUnits="userSpaceOnUse" x="0" y="0" width="478" height="478.4"><rect width="478" height="478.4" fill="url(#vatt)"/></mask>
<mask id="gmask" maskUnits="userSpaceOnUse" x="0" y="0" width="478" height="478.4">
 <g filter="url(#fBlur14)"><path d="M215,-40 L500,-40 L500,500 L-40,500 L-40,400 L30,355 Z" fill="#fff"/></g>
</mask>
</defs>
<rect width="478" height="478.4" fill="#0b1736"/>
<path d="M350,0 L478,0 L478,420 L445,423 L470,370 L466,326 L444,294 L432,240 L410,194 L380,97 Z" fill="#0e1d44"/>
<rect width="478" height="478.4" fill="url(#pdGray)" opacity="0.8" filter="url(#fBlur05)"/>
<g clip-path="url(#gclip)">
<g mask="url(#gmask)">
<g mask="url(#vmask)"><rect width="478" height="478.4" fill="url(#gHalo)"/><rect width="478" height="478.4" fill="url(#gMain)"/></g>
<path d="M318,40 L345,90 L362,140 L378,190" fill="none" stroke="#1a8040" stroke-width="70" stroke-opacity="0.6" stroke-linecap="round" filter="url(#fBlur14)"/>
<path d="M250,95 L300,110 L340,130" fill="none" stroke="#15703e" stroke-width="60" stroke-opacity="0.45" stroke-linecap="round" filter="url(#fBlur14)"/>
<path d="M392,140 L405,190 L414,240 L418,300 L414,350 L420,385" fill="none" stroke="#50c63e" stroke-width="40" stroke-opacity="0.85" filter="url(#fBlur8)"/>
<rect width="478" height="478.4" fill="url(#gCore)"/>
<ellipse cx="250" cy="235" rx="70" ry="40" fill="#4cc040" fill-opacity="0.35" filter="url(#fBlur14)"/>
</g>
<rect width="478" height="478.4" filter="url(#gtex)" opacity="0.2"/>
<ellipse cx="215" cy="290" rx="135" ry="125" fill="url(#pdCell)" opacity="0.6" filter="url(#fBlur05)"/>
<g fill="none" stroke="#62d24a" stroke-opacity="0.3" stroke-width="1">
<path d="M210,200 Q300,150 395,175"/><path d="M230,235 Q320,190 405,215"/><path d="M250,270 Q330,240 412,262"/><path d="M270,330 Q350,310 415,330"/><path d="M215,180 Q290,140 385,150"/><path d="M260,300 Q340,275 414,300"/>
<path d="M40,345 L70,410"/><path d="M60,335 L95,418"/><path d="M85,345 L120,425"/><path d="M110,350 L140,430"/><path d="M30,370 L50,410"/>
</g>
<ellipse cx="323" cy="133" rx="38" ry="32" fill="url(#dspot)"/>
<ellipse cx="88" cy="253" rx="37" ry="27" fill="url(#dspot)" opacity="0.8"/>
<ellipse cx="368" cy="348" rx="8" ry="6" fill="url(#dspot)" opacity="0.55"/>
</g>
<path d="M150,446 L200,444 L237,442 L302,450 L332,446 L362,438" fill="none" stroke="#0b1736" stroke-width="22" stroke-opacity="0.85" filter="url(#fBlur4)"/>
<path d="M240,415 Q300,425 360,405" fill="none" stroke="#0d4034" stroke-width="30" stroke-opacity="0.35" filter="url(#fBlur8)"/>
<path d="M-5,409 L20,408 L54,413 L85,419 L108,427 L135,435 L160,441 L150,445 L108,440 L70,433 L30,428 L-5,430 Z" fill="#44c23c" filter="url(#fBlur2)" opacity="0.95"/>
<path d="M-5,412 L30,410 L60,416" fill="none" stroke="#6cd840" stroke-width="9" filter="url(#fBlur4)" opacity="0.8"/>
<path d="M-2,440 L6,445 L10,460 L4,476 L-2,478 Z" fill="#3cb83a" filter="url(#fBlur1)"/>
<path d="M362,431 L371,408 L388,393 L410,386.500 L427,388.500 L438,408 L441,424 L414,428 L388,432 Z" fill="#6fd437" filter="url(#fBlur2)"/>
<path d="M375,425 L385,405 L405,395 L425,397 L432,415 L410,422 Z" fill="#86e040" filter="url(#fBlur4)" opacity="0.8"/>
<path d="M444,424 L478,413 L478,405 L460,410 L450,418 Z" fill="#3fbb3c" filter="url(#fBlur1)"/>
<path d="M456,395 L478,360 L478,400 L460,408 Z" fill="#1f7a3c" opacity="0.6" filter="url(#fBlur2)"/>
<rect width="478" height="478.4" fill="url(#pdBlue)" opacity="0.28" filter="url(#fBlur05)"/>
<g clip-path="url(#gclip)"><g mask="url(#dmask)"><rect width="478" height="478.4" fill="url(#pdBlue)" opacity="0.88" filter="url(#fBlur05)"/></g></g>
<path d="M346.5,-2.0 L351.0,8.0 L358.0,32.0 L370.0,65.0 L378.0,97.0 L390.0,129.0 L398.0,162.0 L405.5,194.0 L412.0,230.0 L416.0,262.0 L424.0,283.0 L426.5,305.0 L422.5,326.0 L418.2,348.0 L420.5,369.0 L427.0,386.5 L438.0,408.0 L444.5,422.0 L446.5,420.0 L449.0,412.0 L457.5,391.0 L470.0,369.0 L474.7,348.0 L466.0,326.0 L453.0,311.0 L444.5,294.0 L440.0,261.5 L431.5,240.0 L423.0,215.0 L416.0,194.0 L407.5,162.0 L398.5,129.0 L386.5,97.0 L378.0,65.0 L365.5,32.0 L358.0,8.0 L354.0,-2.0 Z" fill="#020308" filter="url(#fBlur05)"/>
<path d="M346.5,-2.0 L351.0,8.0 L358.0,32.0 L370.0,65.0 L378.0,97.0 L390.0,129.0 L398.0,162.0 L405.5,194.0 L412.0,230.0 L416.0,262.0 L424.0,283.0 L426.5,305.0 L422.5,326.0 L418.2,348.0 L420.5,369.0 L427.0,386.5 L438.0,408.0 L444.5,422.0" fill="none" stroke="#1c4fc0" stroke-width="2.2" stroke-dasharray="3 2.500" opacity="0.8"/>
<path d="M446.5,420.0 L449.0,412.0 L457.5,391.0 L470.0,369.0 L474.7,348.0 L466.0,326.0 L453.0,311.0 L444.5,294.0 L440.0,261.5 L431.5,240.0 L423.0,215.0 L416.0,194.0 L407.5,162.0 L398.5,129.0 L386.5,97.0 L378.0,65.0 L365.5,32.0 L358.0,8.0 L354.0,-2.0" fill="none" stroke="#1c4fc0" stroke-width="2" stroke-dasharray="2.500 3" opacity="0.6"/>
<rect width="90" height="90" fill="url(#corner)"/>
<line x1="182.5" y1="0" x2="5.700" y2="346.6" stroke="#fff" stroke-width="2" stroke-dasharray="3.1 2.2"/>
<rect x="414.2" y="463.600" width="51.8" height="2" fill="#fff"/>
</svg>
</g>
<g id="pC">
<text x="3.6" y="679.3" font-size="47" fill="#231815">C</text>
<path d="M68.8,957.9 L70.2,957.6 L71.8,957.2 L73.2,957.4 L74.8,957.4 L76.2,957.9 L77.8,958.1 L79.2,958.5 L80.8,957.9 L82.2,957.8 L83.8,957.3 L85.2,957.0 L86.8,956.8 L88.2,956.8 L89.8,956.7 L91.2,956.8 L92.8,956.8 L94.2,956.8 L95.8,957.1 L97.2,956.9 L98.8,956.8 L100.2,956.9 L101.8,956.8 L103.2,956.7 L104.8,957.0 L106.2,957.3 L107.8,957.4 L109.2,957.7 L110.8,958.0 L112.2,958.2 L113.8,958.5 L115.2,959.1 L116.8,959.8 L118.2,960.2 L119.8,960.9 L121.2,961.4 L122.8,961.9 L124.2,962.5 L125.8,963.0 L127.2,963.5 L128.8,964.2 L130.2,964.9 L131.8,965.4 L133.2,966.1 L134.8,966.9 L136.2,967.5 L137.8,967.6 L139.2,968.3 L140.8,968.3 L142.2,968.1 L143.8,968.3 L145.2,968.8 L146.8,969.1 L148.2,969.8 L149.8,970.2 L151.2,970.2 L152.8,970.7 L154.2,970.9 L155.8,971.0 L157.2,971.4 L158.8,971.7 L160.2,971.8 L161.8,971.6 L163.2,971.7 L164.8,971.4 L166.2,971.1 L167.8,971.3 L169.2,971.4 L170.8,971.6 L172.2,972.2 L173.8,972.8 L175.2,972.9 L176.8,973.4 L178.2,973.6 L179.8,973.8 L181.2,973.8 L182.8,973.4 L184.2,973.2 L185.8,973.1 L187.2,972.4 L188.8,972.1 L190.2,971.7 L191.8,971.0 L193.2,970.4 L194.8,969.9 L196.2,969.1 L197.8,968.4 L199.2,967.6 L200.8,966.9 L202.2,965.7 L203.8,964.4 L205.2,963.0 L206.8,962.1 L208.2,960.8 L209.8,959.7 L211.2,959.0 L212.8,957.7 L214.2,955.9 L215.8,954.5 L217.2,953.2 L218.8,951.4 L220.2,950.0 L221.8,948.7 L223.2,947.3 L224.8,945.8 L226.2,944.4 L227.8,943.5 L229.2,942.7 L230.8,941.1 L232.2,940.1 L233.8,939.2 L235.2,937.8 L236.8,936.3 L238.2,935.7 L239.8,934.6 L241.2,933.5 L242.8,932.6 L244.2,931.7 L245.8,930.3 L247.2,929.7 L248.8,929.2 L250.2,928.7 L251.8,928.3 L253.2,928.3 L254.8,927.7 L256.2,926.8 L257.8,926.2 L259.2,925.9 L260.8,925.4 L262.2,924.9 L263.8,924.8 L265.2,925.0 L266.8,924.8 L268.2,925.0 L269.8,925.3 L271.2,925.4 L272.8,925.2 L274.2,925.5 L275.8,925.7 L277.2,926.1 L278.8,926.9 L280.2,927.6 L281.8,928.0 L283.2,928.5 L284.8,928.8 L286.2,929.1 L287.8,929.5 L289.2,929.8 L290.8,930.4 L292.2,931.1 L293.8,931.7 L295.2,932.1 L296.8,933.0 L298.2,933.4 L299.8,933.9 L301.2,934.0 L302.8,934.5 L304.2,935.0 L305.8,935.3 L307.2,935.5 L308.8,936.3 L310.2,937.0 L311.8,937.3 L313.2,937.7 L314.8,938.0 L316.2,938.1 L317.8,937.9 L319.2,937.8 L320.8,937.9 L322.2,938.1 L323.8,938.0 L325.2,938.1 L326.8,938.5 L328.2,938.7 L329.8,938.6 L331.2,939.1 L332.8,939.3 L334.2,939.2 L335.8,938.9 L337.2,938.9 L338.8,938.7 L340.2,938.6 L341.8,938.7 L343.2,939.3 L344.8,939.6 L346.2,939.6 L347.8,939.3 L349.2,938.9 L350.8,938.4 L352.2,937.8 L353.8,937.5 L355.2,937.2 L356.8,936.7 L358.2,936.3 L359.8,935.8 L361.2,935.2 L362.8,934.9 L364.2,934.4 L365.8,933.8 L367.2,933.7 L368.8,933.3 L370.2,933.2 L371.8,933.2 L373.2,932.9 L374.8,932.8 L376.2,932.3 L377.8,932.3 L379.2,932.3 L380.8,932.6 L382.2,932.6 L383.8,932.7 L385.2,932.6 L386.8,932.4 L388.2,932.2 L389.8,932.2 L391.2,932.6 L392.8,932.7 L394.2,932.9 L395.8,933.0 L397.2,932.9 L398.8,932.8 L400.2,932.9 L401.8,932.9 L403.2,932.8 L404.8,933.2 L406.2,933.4 L407.8,933.4 L409.2,933.7 L410.8,934.1 L412.2,934.0 L413.8,933.9 L415.2,934.2 L416.8,934.1 L418.2,933.9 L419.8,934.0 L421.2,934.0 L422.8,933.9 L424.2,934.0 L425.8,933.9 L427.2,934.0 L428.8,934.3 L430.2,934.1 L431.8,933.8 L433.2,933.8 L434.8,933.0 L436.2,932.3 L437.8,931.9 L439.2,931.5 L440.8,931.0 L442.2,930.8 L443.8,930.3 L445.2,930.1 L446.8,929.9 L448.2,929.3 L449.8,928.9 L451.2,928.6 L452.8,927.8 L454.2,926.8 L455.8,926.4 L457.2,925.4 L458.8,924.8 L460.2,924.2 L461.8,923.4 L463.2,922.3 L464.8,921.7 L466.2,921.2 L467.8,920.1 L469.2,919.5 L470.8,918.9 L472.2,918.4 L473.8,918.0 L475.2,918.0 L476.8,917.8 L478.2,917.7 L479.8,917.7 L481.2,917.2 L482.8,917.1 L484.2,917.1 L485.8,916.8 L487.2,916.3 L488.8,916.4 L490.2,916.2 L491.8,915.8 L493.2,915.5 L494.8,916.2 L496.2,916.6 L497.8,917.3 L499.2,918.4 L500.8,919.5 L502.2,920.2 L503.8,921.0 L505.2,922.2 L506.8,922.8 L508.2,923.5 L509.8,924.2 L511.2,925.0 L512.8,925.5 L514.2,927.1 L515.8,928.6 L517.2,929.8 L518.8,931.4 L520.2,933.1 L521.8,933.7 L523.2,933.9 L524.8,934.1 L526.2,934.3 L527.8,934.4 L529.2,934.9 L530.8,935.1 L532.2,935.7 L533.8,935.9 L535.2,936.3 L536.8,937.0 L538.2,937.8 L539.8,938.3 L541.2,938.9 L542.8,939.3 L544.2,939.2 L545.8,939.1 L547.2,939.0 L548.8,938.7 L550.2,938.4 L551.8,938.3 L553.2,938.4 L554.8,938.7 L556.2,939.2 L557.8,939.6 L559.2,939.9 L560.8,940.0 L562.2,940.2 L563.8,940.5 L565.2,940.8 L566.8,940.8 L568.2,940.8 L569.8,940.3 L571.2,940.2 L572.8,940.0 L574.2,939.8 L575.8,940.2 L577.2,940.0 L578.8,939.5 L580.2,939.0 L581.8,938.8 L583.2,938.0 L584.8,937.3 L586.2,937.0 L587.8,936.6 L589.2,936.0 L590.8,935.2 L592.2,934.8 L593.8,934.0 L595.2,933.4 L596.8,932.4 L598.2,931.6 L599.8,930.7 L601.2,930.1 L602.8,929.3 L604.2,928.8 L605.8,928.6 L606.0,928.6 L606.0,944.9 L605.8,945.4 L604.2,945.8 L602.8,946.4 L601.2,946.7 L599.8,947.8 L598.2,948.2 L596.8,949.0 L595.2,949.7 L593.8,951.0 L592.2,951.7 L590.8,952.6 L589.2,952.9 L587.8,953.6 L586.2,953.7 L584.8,954.1 L583.2,954.4 L581.8,955.1 L580.2,955.6 L578.8,955.9 L577.2,956.3 L575.8,956.6 L574.2,956.7 L572.8,957.3 L571.2,957.5 L569.8,957.8 L568.2,958.1 L566.8,958.1 L565.2,957.6 L563.8,957.4 L562.2,956.6 L560.8,956.2 L559.2,955.9 L557.8,955.5 L556.2,955.2 L554.8,955.2 L553.2,955.0 L551.8,955.0 L550.2,955.0 L548.8,954.8 L547.2,955.0 L545.8,955.2 L544.2,955.3 L542.8,955.2 L541.2,955.0 L539.8,954.5 L538.2,954.2 L536.8,953.9 L535.2,953.6 L533.8,953.4 L532.2,953.1 L530.8,952.9 L529.2,952.4 L527.8,952.1 L526.2,951.8 L524.8,951.4 L523.2,950.7 L521.8,950.0 L520.2,949.0 L518.8,947.8 L517.2,946.3 L515.8,944.7 L514.2,943.4 L512.8,942.0 L511.2,941.0 L509.8,940.2 L508.2,939.5 L506.8,938.7 L505.2,938.3 L503.8,937.4 L502.2,936.6 L500.8,936.0 L499.2,935.2 L497.8,934.4 L496.2,933.4 L494.8,932.7 L493.2,932.4 L491.8,932.4 L490.2,932.4 L488.8,932.5 L487.2,932.7 L485.8,932.9 L484.2,933.2 L482.8,933.5 L481.2,933.8 L479.8,934.0 L478.2,934.0 L476.8,934.2 L475.2,934.1 L473.8,934.0 L472.2,934.2 L470.8,934.8 L469.2,935.5 L467.8,936.2 L466.2,937.4 L464.8,938.5 L463.2,939.3 L461.8,939.9 L460.2,940.5 L458.8,940.7 L457.2,941.2 L455.8,942.1 L454.2,942.7 L452.8,943.9 L451.2,944.7 L449.8,945.3 L448.2,945.7 L446.8,946.3 L445.2,946.6 L443.8,946.9 L442.2,947.3 L440.8,947.5 L439.2,947.7 L437.8,947.7 L436.2,948.1 L434.8,948.4 L433.2,948.8 L431.8,949.3 L430.2,949.9 L428.8,950.1 L427.2,949.9 L425.8,950.1 L424.2,950.1 L422.8,950.2 L421.2,950.4 L419.8,950.8 L418.2,950.6 L416.8,950.3 L415.2,950.2 L413.8,950.2 L412.2,950.0 L410.8,950.1 L409.2,949.9 L407.8,949.6 L406.2,949.2 L404.8,948.7 L403.2,948.4 L401.8,948.6 L400.2,948.3 L398.8,948.3 L397.2,948.5 L395.8,948.8 L394.2,948.6 L392.8,948.7 L391.2,948.7 L389.8,948.3 L388.2,947.8 L386.8,947.8 L385.2,947.7 L383.8,948.0 L382.2,948.3 L380.8,948.7 L379.2,948.9 L377.8,948.9 L376.2,948.6 L374.8,948.4 L373.2,948.2 L371.8,948.0 L370.2,948.1 L368.8,948.6 L367.2,949.0 L365.8,949.4 L364.2,950.1 L362.8,950.5 L361.2,950.9 L359.8,951.1 L358.2,951.6 L356.8,951.8 L355.2,952.4 L353.8,952.5 L352.2,953.2 L350.8,953.4 L349.2,953.8 L347.8,954.1 L346.2,954.5 L344.8,954.6 L343.2,954.5 L341.8,954.4 L340.2,954.3 L338.8,954.0 L337.2,953.8 L335.8,953.6 L334.2,953.4 L332.8,953.1 L331.2,953.4 L329.8,953.7 L328.2,953.4 L326.8,953.4 L325.2,953.3 L323.8,953.0 L322.2,952.4 L320.8,952.4 L319.2,952.4 L317.8,952.6 L316.2,952.3 L314.8,952.5 L313.2,952.5 L311.8,952.4 L310.2,952.0 L308.8,951.6 L307.2,951.3 L305.8,951.1 L304.2,950.8 L302.8,950.6 L301.2,950.3 L299.8,949.6 L298.2,949.1 L296.8,948.4 L295.2,947.8 L293.8,947.1 L292.2,946.7 L290.8,945.9 L289.2,945.4 L287.8,944.6 L286.2,944.2 L284.8,943.8 L283.2,943.3 L281.8,943.0 L280.2,942.7 L278.8,942.0 L277.2,941.5 L275.8,941.3 L274.2,940.9 L272.8,940.8 L271.2,941.1 L269.8,940.9 L268.2,940.5 L266.8,940.5 L265.2,940.9 L263.8,940.7 L262.2,941.3 L260.8,941.6 L259.2,942.1 L257.8,942.2 L256.2,942.8 L254.8,942.7 L253.2,943.6 L251.8,943.9 L250.2,944.6 L248.8,944.8 L247.2,945.7 L245.8,946.4 L244.2,947.2 L242.8,948.1 L241.2,949.4 L239.8,950.4 L238.2,951.4 L236.8,952.6 L235.2,953.7 L233.8,954.8 L232.2,956.1 L230.8,957.3 L229.2,958.2 L227.8,959.2 L226.2,960.3 L224.8,961.5 L223.2,962.8 L221.8,964.4 L220.2,966.1 L218.8,967.5 L217.2,968.8 L215.8,970.3 L214.2,971.4 L212.8,972.6 L211.2,974.1 L209.8,975.6 L208.2,976.7 L206.8,978.4 L205.2,979.7 L203.8,981.2 L202.2,982.0 L200.8,983.0 L199.2,983.9 L197.8,984.7 L196.2,985.4 L194.8,986.3 L193.2,986.9 L191.8,987.4 L190.2,988.1 L188.8,988.5 L187.2,988.9 L185.8,989.2 L184.2,989.6 L182.8,989.8 L181.2,989.9 L179.8,990.0 L178.2,990.0 L176.8,989.4 L175.2,989.4 L173.8,989.2 L172.2,988.8 L170.8,988.4 L169.2,988.7 L167.8,988.4 L166.2,988.4 L164.8,988.1 L163.2,987.9 L161.8,987.9 L160.2,987.8 L158.8,987.9 L157.2,988.3 L155.8,988.4 L154.2,988.0 L152.8,987.6 L151.2,987.0 L149.8,986.8 L148.2,986.5 L146.8,986.2 L145.2,986.4 L143.8,986.4 L142.2,986.2 L140.8,986.3 L139.2,986.0 L137.8,985.4 L136.2,985.0 L134.8,984.5 L133.2,983.8 L131.8,983.3 L130.2,983.1 L128.8,982.7 L127.2,982.5 L125.8,982.2 L124.2,981.8 L122.8,981.0 L121.2,980.1 L119.8,979.1 L118.2,978.7 L116.8,978.1 L115.2,977.2 L113.8,976.8 L112.2,976.8 L110.8,976.3 L109.2,976.2 L107.8,976.5 L106.2,976.6 L104.8,976.6 L103.2,976.6 L101.8,976.6 L100.2,976.7 L98.8,976.7 L97.2,976.5 L95.8,976.9 L94.2,976.9 L92.8,977.1 L91.2,977.3 L89.8,977.6 L88.2,977.7 L86.8,977.8 L85.2,977.6 L83.8,977.6 L82.2,977.6 L80.8,977.3 L79.2,977.3 L77.8,977.5 L76.2,977.7 L74.8,977.8 L73.2,978.1 L71.8,978.4 L70.2,978.6 L68.8,978.7Z" fill="#d9dddd" fill-opacity="0.8"/>
<path d="M68.8,969.3 L70.2,968.7 L71.8,968.3 L73.2,967.8 L74.8,967.6 L76.2,967.4 L77.8,967.5 L79.2,967.3 L80.8,967.1 L82.2,967.1 L83.8,967.2 L85.2,967.4 L86.8,967.4 L88.2,967.4 L89.8,967.2 L91.2,966.8 L92.8,966.6 L94.2,966.4 L95.8,966.2 L97.2,966.2 L98.8,966.6 L100.2,966.5 L101.8,966.5 L103.2,966.7 L104.8,966.9 L106.2,966.7 L107.8,966.7 L109.2,966.9 L110.8,967.2 L112.2,967.6 L113.8,967.8 L115.2,968.4 L116.8,969.0 L118.2,969.1 L119.8,969.3 L121.2,969.9 L122.8,970.8 L124.2,971.5 L125.8,972.1 L127.2,972.9 L128.8,973.5 L130.2,973.6 L131.8,974.0 L133.2,974.6 L134.8,974.9 L136.2,975.5 L137.8,975.9 L139.2,976.4 L140.8,977.0 L142.2,977.5 L143.8,977.9 L145.2,978.7 L146.8,979.2 L148.2,979.1 L149.8,979.4 L151.2,979.2 L152.8,979.2 L154.2,978.9 L155.8,979.4 L157.2,979.5 L158.8,979.7 L160.2,980.0 L161.8,980.2 L163.2,980.1 L164.8,979.9 L166.2,979.8 L167.8,979.6 L169.2,980.0 L170.8,980.1 L172.2,980.5 L173.8,981.0 L175.2,981.5 L176.8,981.7 L178.2,982.3 L179.8,982.5 L181.2,982.5 L182.8,981.7 L184.2,981.5 L185.8,980.9 L187.2,980.5 L188.8,980.2 L190.2,979.8 L191.8,979.0 L193.2,978.7 L194.8,978.0 L196.2,977.1 L197.8,976.1 L199.2,975.3 L200.8,974.3 L202.2,973.3 L203.8,972.1 L205.2,971.2 L206.8,969.9 L208.2,968.6 L209.8,967.4 L211.2,966.1 L212.8,964.6 L214.2,963.6 L215.8,962.4 L217.2,960.7 L218.8,959.4 L220.2,958.2 L221.8,956.7 L223.2,955.2 L224.8,954.0 L226.2,952.6 L227.8,951.4 L229.2,950.1 L230.8,948.8 L232.2,947.6 L233.8,946.5 L235.2,945.3 L236.8,944.0 L238.2,943.1 L239.8,942.4 L241.2,941.7 L242.8,940.6 L244.2,940.0 L245.8,939.0 L247.2,938.1 L248.8,937.2 L250.2,936.4 L251.8,935.7 L253.2,935.4 L254.8,934.9 L256.2,934.6 L257.8,934.3 L259.2,933.8 L260.8,933.3 L262.2,933.3 L263.8,933.2 L265.2,933.2 L266.8,933.4 L268.2,933.3 L269.8,933.0 L271.2,933.0 L272.8,933.0 L274.2,932.8 L275.8,933.0 L277.2,933.5 L278.8,933.9 L280.2,934.6 L281.8,935.3 L283.2,936.0 L284.8,936.6 L286.2,937.0 L287.8,937.5 L289.2,938.2 L290.8,938.6 L292.2,939.2 L293.8,939.7 L295.2,940.1 L296.8,940.6 L298.2,941.4 L299.8,941.6 L301.2,942.2 L302.8,942.5 L304.2,943.0 L305.8,943.2 L307.2,943.6 L308.8,943.9 L310.2,944.1 L311.8,944.6 L313.2,944.9 L314.8,944.8 L316.2,945.2 L317.8,945.3 L319.2,945.1 L320.8,945.4 L322.2,945.6 L323.8,945.4 L325.2,945.6 L326.8,945.6 L328.2,945.4 L329.8,945.4 L331.2,945.6 L332.8,945.9 L334.2,946.1 L335.8,946.6 L337.2,947.0 L338.8,947.0 L340.2,947.0 L341.8,946.7 L343.2,946.4 L344.8,946.2 L346.2,946.3 L347.8,946.1 L349.2,946.0 L350.8,945.6 L352.2,945.2 L353.8,944.8 L355.2,944.3 L356.8,944.1 L358.2,943.7 L359.8,943.8 L361.2,943.6 L362.8,943.2 L364.2,942.7 L365.8,942.4 L367.2,941.7 L368.8,941.2 L370.2,941.0 L371.8,941.0 L373.2,941.2 L374.8,941.2 L376.2,941.1 L377.8,941.0 L379.2,940.8 L380.8,940.4 L382.2,940.4 L383.8,940.3 L385.2,940.4 L386.8,940.4 L388.2,940.6 L389.8,940.6 L391.2,940.7 L392.8,940.6 L394.2,940.7 L395.8,940.7 L397.2,940.6 L398.8,940.6 L400.2,940.9 L401.8,941.0 L403.2,941.4 L404.8,941.2 L406.2,941.4 L407.8,941.4 L409.2,941.5 L410.8,941.6 L412.2,942.2 L413.8,942.3 L415.2,942.4 L416.8,942.9 L418.2,942.9 L419.8,942.8 L421.2,942.8 L422.8,942.7 L424.2,942.0 L425.8,941.9 L427.2,942.2 L428.8,942.3 L430.2,942.2 L431.8,942.3 L433.2,942.2 L434.8,941.6 L436.2,941.3 L437.8,941.0 L439.2,940.5 L440.8,940.1 L442.2,939.3 L443.8,938.5 L445.2,938.0 L446.8,937.5 L448.2,936.8 L449.8,936.7 L451.2,936.2 L452.8,935.9 L454.2,935.4 L455.8,934.7 L457.2,934.2 L458.8,933.5 L460.2,932.5 L461.8,931.7 L463.2,931.2 L464.8,930.1 L466.2,929.4 L467.8,928.6 L469.2,927.6 L470.8,926.8 L472.2,926.4 L473.8,926.2 L475.2,926.1 L476.8,926.2 L478.2,925.9 L479.8,925.9 L481.2,925.3 L482.8,925.0 L484.2,924.6 L485.8,924.5 L487.2,924.2 L488.8,924.3 L490.2,924.0 L491.8,924.2 L493.2,924.3 L494.8,924.6 L496.2,925.2 L497.8,926.4 L499.2,927.3 L500.8,928.3 L502.2,929.0 L503.8,929.7 L505.2,930.1 L506.8,930.4 L508.2,930.6 L509.8,931.4 L511.2,932.2 L512.8,933.7 L514.2,935.3 L515.8,936.9 L517.2,938.2 L518.8,939.7 L520.2,940.9 L521.8,941.5 L523.2,941.8 L524.8,942.3 L526.2,942.9 L527.8,943.0 L529.2,943.7 L530.8,944.3 L532.2,944.7 L533.8,945.0 L535.2,945.4 L536.8,945.6 L538.2,945.6 L539.8,945.9 L541.2,946.2 L542.8,946.5 L544.2,946.4 L545.8,947.0 L547.2,946.9 L548.8,947.2 L550.2,947.2 L551.8,947.1 L553.2,946.5 L554.8,946.6 L556.2,946.9 L557.8,947.1 L559.2,947.7 L560.8,948.5 L562.2,948.7 L563.8,948.9 L565.2,949.5 L566.8,949.4 L568.2,948.9 L569.8,948.9 L571.2,948.6 L572.8,948.2 L574.2,948.0 L575.8,948.1 L577.2,947.6 L578.8,947.5 L580.2,947.2 L581.8,947.0 L583.2,946.3 L584.8,946.2 L586.2,945.2 L587.8,944.6 L589.2,943.8 L590.8,943.2 L592.2,942.5 L593.8,942.1 L595.2,941.5 L596.8,940.7 L598.2,940.2 L599.8,939.2 L601.2,938.3 L602.8,937.5 L604.2,936.8 L605.8,936.4 L606.0,936.4" fill="none" stroke="#4a4a4c" stroke-width="2.6" stroke-linejoin="round" opacity="0.95"/>
<path d="M68.8,931.9 L70.2,931.9 L71.8,931.7 L73.2,931.3 L74.8,931.0 L76.2,931.1 L77.8,931.0 L79.2,930.7 L80.8,930.9 L82.2,930.9 L83.8,930.7 L85.2,930.6 L86.8,930.5 L88.2,930.3 L89.8,930.1 L91.2,930.1 L92.8,930.0 L94.2,930.0 L95.8,929.4 L97.2,929.1 L98.8,928.3 L100.2,927.4 L101.8,927.2 L103.2,926.8 L104.8,926.5 L106.2,925.8 L107.8,925.7 L109.2,924.6 L110.8,924.0 L112.2,923.4 L113.8,923.3 L115.2,922.3 L116.8,922.0 L118.2,922.0 L119.8,922.0 L121.2,922.1 L122.8,922.6 L124.2,923.2 L125.8,923.6 L127.2,924.6 L128.8,925.8 L130.2,927.9 L131.8,930.1 L133.2,932.9 L134.8,935.1 L136.2,937.7 L137.8,939.7 L139.2,941.8 L140.8,943.7 L142.2,945.3 L143.8,947.0 L145.2,949.0 L146.8,950.6 L148.2,952.3 L149.8,954.2 L151.2,955.9 L152.8,957.6 L154.2,959.3 L155.8,961.1 L157.2,962.9 L158.8,964.2 L160.2,965.4 L161.8,966.6 L163.2,967.2 L164.8,968.4 L166.2,969.4 L167.8,970.6 L169.2,971.9 L170.8,973.1 L172.2,973.6 L173.8,974.2 L175.2,974.3 L176.8,973.9 L178.2,973.5 L179.8,973.0 L181.2,972.6 L182.8,972.4 L184.2,971.6 L185.8,970.6 L187.2,969.5 L188.8,967.7 L190.2,966.0 L191.8,964.3 L193.2,963.2 L194.8,961.5 L196.2,959.8 L197.8,958.0 L199.2,955.9 L200.8,952.5 L202.2,948.8 L203.8,944.5 L205.2,939.0 L206.8,933.2 L208.2,927.2 L209.8,921.1 L211.2,915.1 L212.8,909.0 L214.2,902.9 L215.8,896.9 L217.2,891.1 L218.8,885.4 L220.2,879.8 L221.8,874.4 L223.2,868.7 L224.8,863.2 L226.2,857.7 L227.8,852.4 L229.2,847.2 L230.8,842.9 L232.2,838.6 L233.8,834.3 L235.2,830.4 L236.8,826.3 L238.2,822.4 L239.8,819.1 L241.2,816.1 L242.8,813.3 L244.2,810.7 L245.8,807.9 L247.2,805.3 L248.8,802.8 L250.2,800.1 L251.8,798.1 L253.2,796.0 L254.8,793.9 L256.2,792.1 L257.8,790.4 L259.2,788.2 L260.8,786.7 L262.2,785.1 L263.8,783.5 L265.2,782.2 L266.8,781.5 L268.2,780.3 L269.8,779.4 L271.2,778.9 L272.8,778.2 L274.2,777.2 L275.8,776.5 L277.2,775.7 L278.8,775.2 L280.2,775.1 L281.8,775.4 L283.2,775.9 L284.8,776.6 L286.2,777.4 L287.8,778.3 L289.2,779.0 L290.8,779.5 L292.2,779.8 L293.8,779.8 L295.2,779.8 L296.8,779.9 L298.2,780.0 L299.8,780.2 L301.2,780.5 L302.8,780.6 L304.2,780.8 L305.8,781.3 L307.2,781.8 L308.8,782.1 L310.2,782.5 L311.8,782.9 L313.2,783.1 L314.8,783.3 L316.2,783.4 L317.8,783.5 L319.2,783.3 L320.8,783.3 L322.2,783.3 L323.8,784.0 L325.2,784.6 L326.8,785.7 L328.2,786.7 L329.8,788.3 L331.2,789.3 L332.8,790.5 L334.2,791.4 L335.8,792.7 L337.2,793.7 L338.8,794.8 L340.2,795.9 L341.8,797.1 L343.2,798.1 L344.8,798.9 L346.2,799.8 L347.8,801.1 L349.2,801.9 L350.8,802.7 L352.2,803.7 L353.8,804.8 L355.2,805.3 L356.8,806.4 L358.2,807.0 L359.8,807.1 L361.2,807.0 L362.8,806.6 L364.2,805.7 L365.8,804.9 L367.2,804.2 L368.8,803.7 L370.2,803.6 L371.8,803.3 L373.2,803.0 L374.8,802.6 L376.2,802.7 L377.8,802.3 L379.2,802.5 L380.8,803.2 L382.2,803.6 L383.8,803.6 L385.2,803.9 L386.8,804.1 L388.2,804.4 L389.8,805.3 L391.2,805.8 L392.8,806.9 L394.2,808.1 L395.8,809.0 L397.2,810.0 L398.8,811.1 L400.2,812.0 L401.8,813.1 L403.2,814.5 L404.8,816.0 L406.2,817.5 L407.8,818.6 L409.2,820.2 L410.8,821.2 L412.2,822.5 L413.8,824.3 L415.2,826.3 L416.8,827.5 L418.2,828.9 L419.8,830.2 L421.2,831.5 L422.8,832.8 L424.2,834.9 L425.8,836.9 L427.2,838.8 L428.8,840.5 L430.2,842.3 L431.8,843.9 L433.2,844.9 L434.8,846.3 L436.2,847.6 L437.8,848.7 L439.2,849.7 L440.8,851.1 L442.2,852.5 L443.8,853.5 L445.2,854.5 L446.8,855.3 L448.2,856.3 L449.8,856.7 L451.2,857.3 L452.8,857.9 L454.2,858.3 L455.8,858.1 L457.2,858.2 L458.8,858.4 L460.2,858.3 L461.8,858.3 L463.2,858.4 L464.8,858.1 L466.2,857.7 L467.8,857.1 L469.2,856.5 L470.8,855.7 L472.2,854.6 L473.8,853.7 L475.2,853.0 L476.8,851.7 L478.2,850.4 L479.8,849.5 L481.2,847.9 L482.8,846.2 L484.2,844.9 L485.8,843.6 L487.2,841.8 L488.8,840.2 L490.2,838.9 L491.8,837.2 L493.2,835.5 L494.8,834.6 L496.2,833.2 L497.8,831.1 L499.2,830.3 L500.8,829.2 L502.2,827.7 L503.8,827.1 L505.2,826.5 L506.8,825.7 L508.2,825.2 L509.8,825.1 L511.2,825.1 L512.8,825.6 L514.2,826.0 L515.8,826.9 L517.2,827.7 L518.8,828.8 L520.2,830.4 L521.8,831.9 L523.2,833.5 L524.8,835.5 L526.2,837.5 L527.8,839.2 L529.2,840.8 L530.8,842.5 L532.2,844.2 L533.8,846.0 L535.2,847.3 L536.8,849.0 L538.2,850.5 L539.8,852.0 L541.2,853.0 L542.8,854.8 L544.2,856.1 L545.8,857.4 L547.2,858.6 L548.8,859.9 L550.2,860.5 L551.8,861.3 L553.2,862.0 L554.8,862.0 L556.2,862.4 L557.8,862.5 L559.2,862.5 L560.8,862.7 L562.2,863.0 L563.8,862.9 L565.2,863.2 L566.8,863.6 L568.2,864.1 L569.8,864.5 L571.2,865.5 L572.8,866.2 L574.2,867.3 L575.8,867.4 L577.2,867.7 L578.8,867.8 L580.2,867.8 L581.8,867.2 L583.2,867.3 L584.8,867.3 L586.2,867.3 L587.8,866.8 L589.2,866.6 L590.8,866.3 L592.2,865.9 L593.8,865.6 L595.2,865.5 L596.8,865.6 L598.2,865.4 L599.8,865.0 L601.2,864.7 L602.8,864.1 L604.2,863.1 L605.8,862.2 L606.0,861.6 L606.0,930.0 L605.8,930.2 L604.2,930.6 L602.8,931.0 L601.2,931.6 L599.8,932.7 L598.2,933.7 L596.8,934.5 L595.2,935.9 L593.8,936.9 L592.2,937.7 L590.8,938.3 L589.2,939.4 L587.8,940.1 L586.2,940.8 L584.8,941.4 L583.2,942.2 L581.8,943.1 L580.2,943.6 L578.8,944.2 L577.2,944.6 L575.8,945.1 L574.2,945.2 L572.8,945.2 L571.2,945.5 L569.8,945.1 L568.2,944.8 L566.8,944.7 L565.2,944.8 L563.8,944.6 L562.2,945.1 L560.8,945.6 L559.2,945.5 L557.8,945.3 L556.2,945.5 L554.8,945.4 L553.2,945.2 L551.8,945.3 L550.2,945.7 L548.8,945.4 L547.2,945.4 L545.8,945.6 L544.2,945.5 L542.8,945.5 L541.2,945.6 L539.8,945.3 L538.2,944.2 L536.8,943.3 L535.2,942.1 L533.8,940.0 L532.2,937.8 L530.8,936.1 L529.2,934.4 L527.8,932.2 L526.2,930.9 L524.8,929.9 L523.2,928.9 L521.8,927.7 L520.2,926.8 L518.8,925.9 L517.2,925.2 L515.8,924.4 L514.2,923.9 L512.8,923.9 L511.2,923.5 L509.8,923.3 L508.2,923.0 L506.8,923.1 L505.2,923.3 L503.8,923.4 L502.2,923.9 L500.8,924.1 L499.2,924.7 L497.8,924.4 L496.2,925.2 L494.8,925.3 L493.2,925.2 L491.8,925.2 L490.2,925.4 L488.8,925.5 L487.2,925.5 L485.8,925.9 L484.2,925.6 L482.8,925.7 L481.2,925.0 L479.8,924.4 L478.2,923.8 L476.8,923.6 L475.2,923.1 L473.8,922.8 L472.2,922.8 L470.8,922.4 L469.2,921.8 L467.8,920.9 L466.2,919.9 L464.8,918.8 L463.2,917.7 L461.8,916.9 L460.2,916.1 L458.8,915.1 L457.2,914.2 L455.8,913.1 L454.2,911.7 L452.8,910.4 L451.2,909.0 L449.8,907.3 L448.2,905.9 L446.8,904.2 L445.2,902.5 L443.8,900.8 L442.2,899.2 L440.8,897.2 L439.2,895.6 L437.8,893.9 L436.2,892.3 L434.8,890.7 L433.2,889.3 L431.8,887.8 L430.2,886.1 L428.8,884.6 L427.2,883.5 L425.8,882.0 L424.2,880.8 L422.8,879.8 L421.2,879.1 L419.8,877.8 L418.2,876.9 L416.8,876.0 L415.2,875.1 L413.8,874.2 L412.2,873.3 L410.8,872.6 L409.2,871.8 L407.8,870.9 L406.2,870.2 L404.8,869.4 L403.2,868.6 L401.8,867.8 L400.2,867.0 L398.8,866.0 L397.2,865.6 L395.8,864.8 L394.2,864.1 L392.8,863.5 L391.2,863.3 L389.8,862.9 L388.2,863.0 L386.8,863.3 L385.2,864.3 L383.8,864.8 L382.2,865.5 L380.8,866.5 L379.2,867.3 L377.8,867.6 L376.2,868.1 L374.8,868.8 L373.2,869.4 L371.8,870.6 L370.2,871.9 L368.8,873.6 L367.2,875.0 L365.8,876.5 L364.2,877.9 L362.8,878.9 L361.2,880.2 L359.8,881.4 L358.2,882.3 L356.8,882.7 L355.2,882.9 L353.8,882.5 L352.2,882.1 L350.8,881.8 L349.2,881.6 L347.8,881.3 L346.2,881.3 L344.8,881.1 L343.2,880.6 L341.8,880.3 L340.2,879.6 L338.8,879.1 L337.2,877.8 L335.8,876.8 L334.2,875.5 L332.8,874.5 L331.2,873.0 L329.8,872.1 L328.2,870.5 L326.8,869.1 L325.2,867.7 L323.8,866.7 L322.2,865.9 L320.8,865.5 L319.2,865.4 L317.8,865.3 L316.2,865.2 L314.8,864.8 L313.2,864.4 L311.8,863.6 L310.2,862.9 L308.8,861.8 L307.2,860.8 L305.8,860.2 L304.2,859.5 L302.8,858.7 L301.2,858.1 L299.8,857.1 L298.2,855.9 L296.8,855.2 L295.2,854.0 L293.8,853.0 L292.2,852.3 L290.8,851.4 L289.2,850.6 L287.8,849.8 L286.2,849.3 L284.8,848.9 L283.2,848.5 L281.8,848.2 L280.2,848.6 L278.8,848.9 L277.2,849.1 L275.8,849.8 L274.2,850.4 L272.8,850.9 L271.2,851.3 L269.8,852.0 L268.2,852.4 L266.8,853.0 L265.2,854.0 L263.8,854.9 L262.2,855.7 L260.8,856.9 L259.2,858.2 L257.8,859.2 L256.2,860.7 L254.8,862.5 L253.2,864.2 L251.8,866.1 L250.2,867.9 L248.8,869.6 L247.2,871.8 L245.8,873.5 L244.2,874.9 L242.8,876.4 L241.2,878.5 L239.8,880.3 L238.2,882.3 L236.8,884.8 L235.2,887.7 L233.8,890.0 L232.2,892.8 L230.8,895.5 L229.2,898.6 L227.8,901.8 L226.2,905.6 L224.8,908.5 L223.2,912.3 L221.8,916.0 L220.2,919.9 L218.8,924.0 L217.2,928.5 L215.8,932.9 L214.2,937.4 L212.8,941.7 L211.2,945.9 L209.8,950.3 L208.2,954.6 L206.8,958.8 L205.2,962.9 L203.8,966.3 L202.2,969.8 L200.8,973.4 L199.2,977.3 L197.8,981.8 L196.2,987.2 L194.8,992.5 L193.2,997.7 L191.8,1002.5 L190.2,1006.4 L188.8,1009.8 L187.2,1012.7 L185.8,1015.5 L184.2,1017.3 L182.8,1019.2 L181.2,1020.8 L179.8,1022.4 L178.2,1023.4 L176.8,1024.0 L175.2,1024.7 L173.8,1024.5 L172.2,1024.4 L170.8,1024.2 L169.2,1024.3 L167.8,1024.0 L166.2,1023.9 L164.8,1023.4 L163.2,1022.8 L161.8,1021.9 L160.2,1020.8 L158.8,1019.6 L157.2,1018.4 L155.8,1016.4 L154.2,1014.6 L152.8,1012.5 L151.2,1010.2 L149.8,1007.6 L148.2,1005.6 L146.8,1003.6 L145.2,1001.5 L143.8,999.3 L142.2,997.4 L140.8,995.3 L139.2,993.1 L137.8,991.2 L136.2,989.7 L134.8,988.5 L133.2,987.5 L131.8,986.8 L130.2,986.7 L128.8,986.2 L127.2,985.7 L125.8,985.0 L124.2,984.0 L122.8,982.8 L121.2,981.9 L119.8,980.9 L118.2,980.2 L116.8,979.7 L115.2,979.3 L113.8,978.8 L112.2,978.2 L110.8,977.7 L109.2,977.0 L107.8,976.5 L106.2,975.5 L104.8,974.4 L103.2,973.0 L101.8,971.4 L100.2,970.0 L98.8,968.4 L97.2,967.5 L95.8,966.4 L94.2,965.3 L92.8,963.8 L91.2,963.1 L89.8,961.8 L88.2,960.7 L86.8,959.8 L85.2,959.3 L83.8,958.7 L82.2,958.3 L80.8,958.2 L79.2,958.9 L77.8,959.7 L76.2,960.7 L74.8,962.4 L73.2,963.8 L71.8,964.8 L70.2,965.9 L68.8,966.6Z" fill="#f5b3b5" fill-opacity="0.68"/>
<path d="M68.8,954.4 L70.2,953.8 L71.8,952.7 L73.2,952.0 L74.8,951.1 L76.2,949.9 L77.8,949.4 L79.2,948.8 L80.8,948.2 L82.2,947.4 L83.8,946.8 L85.2,946.0 L86.8,945.4 L88.2,944.3 L89.8,943.5 L91.2,942.9 L92.8,942.3 L94.2,942.0 L95.8,941.7 L97.2,941.7 L98.8,941.3 L100.2,940.9 L101.8,940.7 L103.2,940.3 L104.8,940.2 L106.2,940.5 L107.8,940.7 L109.2,940.9 L110.8,941.2 L112.2,941.0 L113.8,941.3 L115.2,941.7 L116.8,942.0 L118.2,942.5 L119.8,942.9 L121.2,943.2 L122.8,943.6 L124.2,944.2 L125.8,945.0 L127.2,945.9 L128.8,946.4 L130.2,947.1 L131.8,947.5 L133.2,947.5 L134.8,948.1 L136.2,948.5 L137.8,948.6 L139.2,948.9 L140.8,949.4 L142.2,949.7 L143.8,950.0 L145.2,950.3 L146.8,950.5 L148.2,950.9 L149.8,951.1 L151.2,951.1 L152.8,951.3 L154.2,951.5 L155.8,951.3 L157.2,950.9 L158.8,950.9 L160.2,950.8 L161.8,950.6 L163.2,950.4 L164.8,950.4 L166.2,950.2 L167.8,949.7 L169.2,949.7 L170.8,950.0 L172.2,950.0 L173.8,950.5 L175.2,951.2 L176.8,951.4 L178.2,951.3 L179.8,951.4 L181.2,951.1 L182.8,951.0 L184.2,951.1 L185.8,951.4 L187.2,951.7 L188.8,951.7 L190.2,951.8 L191.8,951.7 L193.2,951.7 L194.8,951.5 L196.2,951.5 L197.8,951.4 L199.2,951.2 L200.8,951.0 L202.2,950.7 L203.8,950.5 L205.2,950.1 L206.8,950.2 L208.2,949.9 L209.8,949.6 L211.2,949.6 L212.8,949.3 L214.2,948.7 L215.8,948.2 L217.2,947.9 L218.8,947.5 L220.2,947.2 L221.8,946.7 L223.2,946.6 L224.8,946.4 L226.2,946.1 L227.8,945.9 L229.2,945.7 L230.8,945.4 L232.2,945.3 L233.8,945.1 L235.2,944.7 L236.8,944.7 L238.2,944.4 L239.8,944.2 L241.2,943.8 L242.8,943.8 L244.2,943.4 L245.8,943.2 L247.2,942.6 L248.8,942.2 L250.2,941.7 L251.8,941.0 L253.2,940.2 L254.8,939.3 L256.2,938.5 L257.8,937.7 L259.2,936.9 L260.8,936.2 L262.2,935.6 L263.8,934.9 L265.2,934.1 L266.8,933.3 L268.2,932.4 L269.8,931.3 L271.2,930.2 L272.8,929.2 L274.2,927.9 L275.8,926.9 L277.2,925.8 L278.8,924.3 L280.2,923.4 L281.8,922.6 L283.2,921.8 L284.8,921.0 L286.2,920.7 L287.8,920.0 L289.2,919.3 L290.8,918.3 L292.2,917.7 L293.8,917.1 L295.2,916.5 L296.8,916.2 L298.2,915.8 L299.8,915.5 L301.2,915.2 L302.8,915.0 L304.2,914.5 L305.8,914.3 L307.2,914.0 L308.8,913.5 L310.2,913.3 L311.8,913.2 L313.2,913.1 L314.8,913.2 L316.2,913.2 L317.8,913.2 L319.2,913.2 L320.8,913.1 L322.2,913.3 L323.8,913.5 L325.2,913.5 L326.8,913.6 L328.2,913.6 L329.8,913.3 L331.2,913.0 L332.8,913.1 L334.2,913.0 L335.8,913.1 L337.2,913.1 L338.8,913.2 L340.2,912.9 L341.8,912.6 L343.2,912.5 L344.8,912.4 L346.2,912.0 L347.8,911.9 L349.2,912.0 L350.8,911.7 L352.2,911.6 L353.8,911.6 L355.2,911.5 L356.8,911.0 L358.2,910.6 L359.8,909.8 L361.2,909.1 L362.8,908.7 L364.2,908.3 L365.8,907.8 L367.2,907.5 L368.8,907.1 L370.2,906.5 L371.8,905.8 L373.2,905.4 L374.8,904.4 L376.2,904.1 L377.8,903.4 L379.2,902.8 L380.8,901.9 L382.2,901.8 L383.8,901.2 L385.2,900.6 L386.8,900.0 L388.2,899.6 L389.8,899.1 L391.2,898.8 L392.8,898.7 L394.2,898.8 L395.8,898.8 L397.2,898.5 L398.8,898.2 L400.2,897.8 L401.8,897.6 L403.2,897.7 L404.8,897.9 L406.2,897.9 L407.8,898.1 L409.2,898.2 L410.8,898.1 L412.2,897.8 L413.8,897.6 L415.2,897.3 L416.8,897.1 L418.2,896.8 L419.8,896.6 L421.2,896.8 L422.8,896.6 L424.2,896.2 L425.8,895.8 L427.2,895.3 L428.8,894.4 L430.2,893.7 L431.8,893.0 L433.2,892.3 L434.8,891.6 L436.2,890.8 L437.8,890.2 L439.2,889.7 L440.8,889.4 L442.2,889.4 L443.8,889.9 L445.2,889.8 L446.8,889.7 L448.2,889.6 L449.8,889.8 L451.2,889.8 L452.8,890.2 L454.2,890.8 L455.8,891.4 L457.2,891.5 L458.8,891.7 L460.2,891.8 L461.8,892.3 L463.2,892.8 L464.8,893.5 L466.2,894.2 L467.8,894.8 L469.2,895.2 L470.8,895.6 L472.2,896.4 L473.8,897.1 L475.2,897.8 L476.8,898.6 L478.2,899.3 L479.8,899.6 L481.2,900.3 L482.8,900.7 L484.2,900.9 L485.8,901.1 L487.2,901.5 L488.8,901.5 L490.2,901.8 L491.8,902.2 L493.2,902.3 L494.8,902.2 L496.2,902.7 L497.8,902.9 L499.2,903.0 L500.8,903.5 L502.2,904.0 L503.8,904.2 L505.2,904.2 L506.8,904.4 L508.2,904.6 L509.8,904.8 L511.2,904.8 L512.8,905.2 L514.2,905.2 L515.8,905.2 L517.2,905.4 L518.8,905.6 L520.2,905.6 L521.8,905.3 L523.2,905.2 L524.8,904.9 L526.2,904.6 L527.8,904.4 L529.2,904.5 L530.8,904.2 L532.2,904.0 L533.8,904.0 L535.2,903.7 L536.8,903.6 L538.2,903.8 L539.8,903.8 L541.2,904.0 L542.8,904.3 L544.2,904.6 L545.8,904.7 L547.2,905.2 L548.8,905.4 L550.2,905.7 L551.8,905.9 L553.2,906.1 L554.8,906.1 L556.2,906.5 L557.8,906.8 L559.2,907.6 L560.8,908.3 L562.2,909.0 L563.8,909.9 L565.2,910.6 L566.8,911.0 L568.2,912.0 L569.8,912.7 L571.2,913.0 L572.8,913.6 L574.2,914.3 L575.8,914.6 L577.2,914.8 L578.8,915.3 L580.2,915.9 L581.8,916.3 L583.2,916.4 L584.8,917.3 L586.2,918.0 L587.8,918.5 L589.2,918.8 L590.8,919.4 L592.2,919.8 L593.8,920.1 L595.2,920.0 L596.8,920.7 L598.2,921.1 L599.8,921.8 L601.2,922.0 L602.8,922.8 L604.2,922.9 L605.8,923.0 L606.0,922.9 L606.0,956.2 L605.8,956.1 L604.2,956.3 L602.8,956.5 L601.2,956.5 L599.8,956.6 L598.2,957.4 L596.8,957.7 L595.2,957.5 L593.8,957.9 L592.2,957.9 L590.8,957.6 L589.2,957.0 L587.8,956.8 L586.2,956.2 L584.8,955.5 L583.2,954.8 L581.8,954.7 L580.2,954.4 L578.8,954.1 L577.2,953.7 L575.8,953.3 L574.2,952.0 L572.8,950.8 L571.2,949.3 L569.8,948.1 L568.2,946.7 L566.8,945.6 L565.2,944.2 L563.8,943.0 L562.2,941.6 L560.8,939.5 L559.2,937.6 L557.8,935.9 L556.2,933.7 L554.8,932.1 L553.2,931.5 L551.8,931.2 L550.2,930.7 L548.8,930.3 L547.2,930.1 L545.8,930.8 L544.2,931.5 L542.8,932.5 L541.2,933.8 L539.8,935.1 L538.2,935.4 L536.8,936.2 L535.2,936.8 L533.8,937.2 L532.2,937.6 L530.8,938.2 L529.2,938.6 L527.8,939.4 L526.2,940.0 L524.8,940.0 L523.2,940.6 L521.8,941.4 L520.2,942.1 L518.8,943.1 L517.2,944.2 L515.8,945.4 L514.2,946.4 L512.8,947.2 L511.2,947.1 L509.8,947.2 L508.2,946.6 L506.8,946.2 L505.2,946.0 L503.8,945.6 L502.2,945.2 L500.8,945.4 L499.2,945.7 L497.8,946.1 L496.2,946.7 L494.8,947.0 L493.2,947.1 L491.8,947.4 L490.2,947.3 L488.8,946.4 L487.2,945.6 L485.8,944.7 L484.2,944.0 L482.8,943.0 L481.2,942.4 L479.8,941.8 L478.2,941.4 L476.8,940.6 L475.2,939.9 L473.8,939.2 L472.2,938.5 L470.8,937.5 L469.2,936.7 L467.8,935.9 L466.2,935.0 L464.8,933.5 L463.2,932.6 L461.8,931.6 L460.2,930.3 L458.8,929.1 L457.2,928.1 L455.8,927.3 L454.2,927.2 L452.8,927.5 L451.2,928.0 L449.8,928.3 L448.2,928.6 L446.8,928.8 L445.2,928.8 L443.8,929.0 L442.2,929.2 L440.8,929.4 L439.2,929.1 L437.8,929.2 L436.2,928.8 L434.8,928.7 L433.2,928.2 L431.8,928.7 L430.2,929.1 L428.8,929.5 L427.2,929.8 L425.8,930.9 L424.2,931.9 L422.8,932.9 L421.2,933.9 L419.8,934.5 L418.2,934.2 L416.8,933.6 L415.2,933.2 L413.8,932.7 L412.2,932.1 L410.8,931.9 L409.2,931.5 L407.8,931.0 L406.2,930.5 L404.8,930.1 L403.2,929.5 L401.8,928.8 L400.2,928.3 L398.8,927.6 L397.2,926.9 L395.8,926.2 L394.2,926.1 L392.8,926.4 L391.2,926.6 L389.8,926.9 L388.2,927.1 L386.8,927.4 L385.2,927.9 L383.8,928.6 L382.2,929.5 L380.8,930.4 L379.2,931.4 L377.8,932.0 L376.2,932.5 L374.8,932.8 L373.2,933.7 L371.8,934.1 L370.2,935.0 L368.8,936.2 L367.2,937.3 L365.8,937.8 L364.2,939.3 L362.8,939.9 L361.2,940.3 L359.8,940.8 L358.2,941.3 L356.8,941.4 L355.2,942.2 L353.8,942.6 L352.2,942.9 L350.8,943.1 L349.2,943.1 L347.8,943.1 L346.2,943.4 L344.8,943.5 L343.2,943.9 L341.8,944.2 L340.2,944.4 L338.8,944.2 L337.2,944.4 L335.8,944.6 L334.2,944.7 L332.8,944.5 L331.2,944.7 L329.8,944.6 L328.2,944.5 L326.8,944.4 L325.2,944.5 L323.8,944.3 L322.2,944.4 L320.8,944.2 L319.2,944.2 L317.8,943.7 L316.2,942.9 L314.8,942.3 L313.2,941.6 L311.8,940.4 L310.2,939.5 L308.8,939.0 L307.2,938.4 L305.8,938.4 L304.2,939.7 L302.8,940.8 L301.2,941.8 L299.8,942.6 L298.2,943.4 L296.8,943.9 L295.2,944.2 L293.8,944.8 L292.2,945.5 L290.8,946.8 L289.2,947.7 L287.8,948.7 L286.2,949.6 L284.8,950.7 L283.2,951.8 L281.8,952.8 L280.2,954.1 L278.8,955.0 L277.2,955.9 L275.8,956.8 L274.2,957.6 L272.8,958.3 L271.2,959.5 L269.8,960.4 L268.2,961.1 L266.8,962.0 L265.2,963.0 L263.8,964.0 L262.2,965.1 L260.8,966.2 L259.2,967.3 L257.8,968.2 L256.2,968.9 L254.8,969.5 L253.2,969.7 L251.8,970.0 L250.2,970.7 L248.8,971.2 L247.2,971.7 L245.8,972.5 L244.2,972.9 L242.8,972.4 L241.2,972.4 L239.8,972.4 L238.2,972.2 L236.8,972.0 L235.2,971.9 L233.8,971.8 L232.2,971.5 L230.8,971.5 L229.2,971.4 L227.8,971.5 L226.2,971.1 L224.8,971.2 L223.2,971.1 L221.8,971.0 L220.2,971.0 L218.8,971.1 L217.2,971.2 L215.8,971.4 L214.2,971.5 L212.8,971.3 L211.2,971.1 L209.8,970.8 L208.2,970.3 L206.8,970.2 L205.2,970.2 L203.8,970.3 L202.2,970.3 L200.8,970.0 L199.2,969.6 L197.8,969.4 L196.2,968.9 L194.8,968.7 L193.2,968.7 L191.8,968.8 L190.2,968.6 L188.8,968.7 L187.2,968.8 L185.8,968.9 L184.2,968.9 L182.8,969.5 L181.2,969.9 L179.8,970.0 L178.2,970.0 L176.8,970.4 L175.2,970.2 L173.8,970.1 L172.2,970.1 L170.8,970.1 L169.2,970.0 L167.8,970.4 L166.2,971.0 L164.8,971.4 L163.2,971.6 L161.8,972.0 L160.2,972.5 L158.8,972.6 L157.2,973.0 L155.8,973.3 L154.2,973.5 L152.8,973.3 L151.2,973.3 L149.8,973.3 L148.2,973.5 L146.8,973.8 L145.2,973.8 L143.8,973.8 L142.2,974.0 L140.8,973.7 L139.2,972.7 L137.8,972.1 L136.2,971.5 L134.8,970.9 L133.2,970.4 L131.8,970.4 L130.2,970.1 L128.8,969.9 L127.2,969.4 L125.8,968.7 L124.2,967.8 L122.8,967.0 L121.2,966.2 L119.8,965.2 L118.2,964.9 L116.8,964.4 L115.2,964.3 L113.8,964.0 L112.2,963.6 L110.8,963.0 L109.2,962.5 L107.8,962.2 L106.2,961.9 L104.8,962.1 L103.2,962.4 L101.8,963.3 L100.2,963.4 L98.8,963.5 L97.2,964.0 L95.8,964.4 L94.2,964.2 L92.8,964.8 L91.2,965.4 L89.8,966.3 L88.2,967.0 L86.8,967.9 L85.2,968.8 L83.8,969.7 L82.2,970.2 L80.8,971.0 L79.2,972.0 L77.8,972.9 L76.2,973.9 L74.8,975.2 L73.2,976.2 L71.8,977.5 L70.2,979.1 L68.8,980.0Z" fill="#f9cdb0" fill-opacity="0.62"/>
<path d="M68.8,949.8 L70.2,949.0 L71.8,948.3 L73.2,946.9 L74.8,946.5 L76.2,945.7 L77.8,945.2 L79.2,944.6 L80.8,944.9 L82.2,944.4 L83.8,944.6 L85.2,944.8 L86.8,945.3 L88.2,945.3 L89.8,945.9 L91.2,946.2 L92.8,946.7 L94.2,947.1 L95.8,947.5 L97.2,948.1 L98.8,948.8 L100.2,949.4 L101.8,949.9 L103.2,950.3 L104.8,950.4 L106.2,950.4 L107.8,950.5 L109.2,950.5 L110.8,950.6 L112.2,950.7 L113.8,950.8 L115.2,950.8 L116.8,950.7 L118.2,950.9 L119.8,950.9 L121.2,951.4 L122.8,952.3 L124.2,953.2 L125.8,954.2 L127.2,955.3 L128.8,956.3 L130.2,957.5 L131.8,958.5 L133.2,959.8 L134.8,961.4 L136.2,963.5 L137.8,965.1 L139.2,967.3 L140.8,969.5 L142.2,971.5 L143.8,973.2 L145.2,975.2 L146.8,977.1 L148.2,979.1 L149.8,981.1 L151.2,983.3 L152.8,985.1 L154.2,987.1 L155.8,988.7 L157.2,990.5 L158.8,992.0 L160.2,993.3 L161.8,994.4 L163.2,995.4 L164.8,996.1 L166.2,997.0 L167.8,998.1 L169.2,998.6 L170.8,999.0 L172.2,999.1 L173.8,999.0 L175.2,998.7 L176.8,998.6 L178.2,998.1 L179.8,997.7 L181.2,997.1 L182.8,996.0 L184.2,994.7 L185.8,993.3 L187.2,991.3 L188.8,989.2 L190.2,986.8 L191.8,983.9 L193.2,980.7 L194.8,977.1 L196.2,973.4 L197.8,969.7 L199.2,966.3 L200.8,962.6 L202.2,958.5 L203.8,953.9 L205.2,948.8 L206.8,943.5 L208.2,938.2 L209.8,933.0 L211.2,928.1 L212.8,923.2 L214.2,918.4 L215.8,913.5 L217.2,909.0 L218.8,904.4 L220.2,900.2 L221.8,895.7 L223.2,891.7 L224.8,887.8 L226.2,883.7 L227.8,879.7 L229.2,876.2 L230.8,872.3 L232.2,868.8 L233.8,865.7 L235.2,862.3 L236.8,859.0 L238.2,855.9 L239.8,852.7 L241.2,849.4 L242.8,846.9 L244.2,844.1 L245.8,841.6 L247.2,838.9 L248.8,836.8 L250.2,834.6 L251.8,832.1 L253.2,830.4 L254.8,828.9 L256.2,827.0 L257.8,824.8 L259.2,823.5 L260.8,821.8 L262.2,820.2 L263.8,818.7 L265.2,817.7 L266.8,816.5 L268.2,815.4 L269.8,814.6 L271.2,813.8 L272.8,813.2 L274.2,812.7 L275.8,812.3 L277.2,811.8 L278.8,811.9 L280.2,811.9 L281.8,812.1 L283.2,812.6 L284.8,813.2 L286.2,813.8 L287.8,814.3 L289.2,814.9 L290.8,815.3 L292.2,815.4 L293.8,815.8 L295.2,816.5 L296.8,816.8 L298.2,817.2 L299.8,818.0 L301.2,818.3 L302.8,818.5 L304.2,819.0 L305.8,819.6 L307.2,820.2 L308.8,821.0 L310.2,821.7 L311.8,822.7 L313.2,823.2 L314.8,823.9 L316.2,824.1 L317.8,824.5 L319.2,824.2 L320.8,824.1 L322.2,824.3 L323.8,825.2 L325.2,825.6 L326.8,826.9 L328.2,828.2 L329.8,829.7 L331.2,830.6 L332.8,832.0 L334.2,833.1 L335.8,834.0 L337.2,834.8 L338.8,835.8 L340.2,836.7 L341.8,837.6 L343.2,838.6 L344.8,839.4 L346.2,840.2 L347.8,840.7 L349.2,841.4 L350.8,842.3 L352.2,842.9 L353.8,843.7 L355.2,844.4 L356.8,844.8 L358.2,844.3 L359.8,843.9 L361.2,843.0 L362.8,842.0 L364.2,841.0 L365.8,840.2 L367.2,839.2 L368.8,838.2 L370.2,837.5 L371.8,836.4 L373.2,835.6 L374.8,834.6 L376.2,834.0 L377.8,833.0 L379.2,833.0 L380.8,832.9 L382.2,832.7 L383.8,832.8 L385.2,832.8 L386.8,832.3 L388.2,832.5 L389.8,832.9 L391.2,833.1 L392.8,833.9 L394.2,834.7 L395.8,835.5 L397.2,836.2 L398.8,837.3 L400.2,837.9 L401.8,838.6 L403.2,839.8 L404.8,840.7 L406.2,841.5 L407.8,842.4 L409.2,843.6 L410.8,844.5 L412.2,845.7 L413.8,847.0 L415.2,848.6 L416.8,849.8 L418.2,850.9 L419.8,852.1 L421.2,853.5 L422.8,854.6 L424.2,856.5 L425.8,858.5 L427.2,860.4 L428.8,862.2 L430.2,863.9 L431.8,865.3 L433.2,867.0 L434.8,868.6 L436.2,870.1 L437.8,872.0 L439.2,873.3 L440.8,874.5 L442.2,875.7 L443.8,876.6 L445.2,877.8 L446.8,879.2 L448.2,880.3 L449.8,881.9 L451.2,883.5 L452.8,884.4 L454.2,885.1 L455.8,886.0 L457.2,886.1 L458.8,886.6 L460.2,886.9 L461.8,887.4 L463.2,887.9 L464.8,888.6 L466.2,888.9 L467.8,889.2 L469.2,889.1 L470.8,889.0 L472.2,888.9 L473.8,888.6 L475.2,888.4 L476.8,888.0 L478.2,887.5 L479.8,886.7 L481.2,886.4 L482.8,885.7 L484.2,885.4 L485.8,884.7 L487.2,884.0 L488.8,883.1 L490.2,882.4 L491.8,881.4 L493.2,880.7 L494.8,880.0 L496.2,879.2 L497.8,878.1 L499.2,877.3 L500.8,876.5 L502.2,875.8 L503.8,875.1 L505.2,874.5 L506.8,874.0 L508.2,873.8 L509.8,873.9 L511.2,874.1 L512.8,874.4 L514.2,874.8 L515.8,875.6 L517.2,876.0 L518.8,876.7 L520.2,877.8 L521.8,879.0 L523.2,880.3 L524.8,882.0 L526.2,883.6 L527.8,885.5 L529.2,887.3 L530.8,889.1 L532.2,891.0 L533.8,893.2 L535.2,894.8 L536.8,896.8 L538.2,898.1 L539.8,899.2 L541.2,899.8 L542.8,900.4 L544.2,900.5 L545.8,901.0 L547.2,901.4 L548.8,902.0 L550.2,902.5 L551.8,903.1 L553.2,903.6 L554.8,904.0 L556.2,904.3 L557.8,904.5 L559.2,904.6 L560.8,904.4 L562.2,904.5 L563.8,904.0 L565.2,904.0 L566.8,904.2 L568.2,904.4 L569.8,904.5 L571.2,905.0 L572.8,905.2 L574.2,905.0 L575.8,905.2 L577.2,905.6 L578.8,905.5 L580.2,905.5 L581.8,905.4 L583.2,905.1 L584.8,904.4 L586.2,903.9 L587.8,903.4 L589.2,902.7 L590.8,902.3 L592.2,901.8 L593.8,901.3 L595.2,900.7 L596.8,900.2 L598.2,899.3 L599.8,898.6 L601.2,898.0 L602.8,897.1 L604.2,896.6 L605.8,896.2 L606.0,895.8" fill="none" stroke="#e0343a" stroke-width="2.6" stroke-linejoin="round"/>
<path d="M68.8,966.4 L70.2,966.1 L71.8,964.9 L73.2,963.8 L74.8,962.9 L76.2,962.0 L77.8,960.6 L79.2,959.8 L80.8,959.1 L82.2,958.6 L83.8,958.0 L85.2,957.2 L86.8,956.7 L88.2,955.8 L89.8,954.7 L91.2,954.1 L92.8,953.6 L94.2,953.1 L95.8,952.8 L97.2,952.5 L98.8,952.0 L100.2,951.7 L101.8,951.4 L103.2,951.1 L104.8,950.9 L106.2,950.8 L107.8,951.0 L109.2,951.3 L110.8,951.6 L112.2,952.3 L113.8,952.5 L115.2,953.0 L116.8,953.4 L118.2,954.1 L119.8,954.4 L121.2,955.2 L122.8,955.8 L124.2,956.4 L125.8,956.8 L127.2,957.4 L128.8,957.9 L130.2,958.6 L131.8,959.2 L133.2,959.6 L134.8,960.0 L136.2,960.6 L137.8,960.6 L139.2,960.8 L140.8,961.4 L142.2,961.6 L143.8,961.7 L145.2,961.9 L146.8,962.0 L148.2,962.1 L149.8,962.1 L151.2,962.3 L152.8,962.4 L154.2,962.1 L155.8,961.8 L157.2,961.7 L158.8,961.4 L160.2,961.3 L161.8,961.0 L163.2,960.9 L164.8,960.6 L166.2,960.2 L167.8,960.0 L169.2,960.3 L170.8,960.1 L172.2,960.3 L173.8,960.4 L175.2,960.3 L176.8,960.1 L178.2,960.4 L179.8,959.9 L181.2,959.9 L182.8,960.0 L184.2,959.9 L185.8,959.7 L187.2,960.0 L188.8,960.1 L190.2,960.2 L191.8,960.4 L193.2,960.3 L194.8,960.5 L196.2,960.5 L197.8,960.3 L199.2,960.4 L200.8,960.6 L202.2,960.5 L203.8,960.3 L205.2,960.5 L206.8,960.2 L208.2,960.2 L209.8,960.1 L211.2,960.0 L212.8,959.9 L214.2,959.8 L215.8,959.7 L217.2,959.6 L218.8,959.3 L220.2,959.1 L221.8,959.3 L223.2,959.3 L224.8,959.4 L226.2,959.5 L227.8,959.2 L229.2,959.1 L230.8,958.6 L232.2,958.2 L233.8,957.9 L235.2,957.9 L236.8,957.9 L238.2,957.8 L239.8,957.8 L241.2,957.7 L242.8,958.1 L244.2,957.8 L245.8,957.4 L247.2,957.1 L248.8,956.7 L250.2,955.8 L251.8,955.6 L253.2,955.4 L254.8,954.8 L256.2,954.1 L257.8,953.4 L259.2,952.2 L260.8,951.1 L262.2,950.1 L263.8,949.2 L265.2,948.3 L266.8,947.7 L268.2,947.0 L269.8,945.9 L271.2,945.3 L272.8,944.3 L274.2,943.3 L275.8,942.0 L277.2,941.1 L278.8,939.8 L280.2,938.4 L281.8,937.9 L283.2,937.3 L284.8,936.7 L286.2,936.0 L287.8,935.5 L289.2,934.3 L290.8,933.4 L292.2,932.2 L293.8,931.5 L295.2,930.4 L296.8,929.7 L298.2,929.1 L299.8,928.6 L301.2,928.0 L302.8,927.9 L304.2,927.1 L305.8,926.3 L307.2,926.0 L308.8,926.1 L310.2,926.1 L311.8,926.6 L313.2,927.2 L314.8,927.5 L316.2,928.1 L317.8,929.2 L319.2,929.6 L320.8,929.9 L322.2,929.7 L323.8,929.7 L325.2,929.2 L326.8,929.0 L328.2,928.7 L329.8,929.0 L331.2,928.9 L332.8,928.7 L334.2,928.9 L335.8,929.1 L337.2,929.0 L338.8,928.8 L340.2,928.9 L341.8,928.7 L343.2,928.4 L344.8,928.1 L346.2,928.0 L347.8,927.8 L349.2,927.6 L350.8,927.4 L352.2,927.4 L353.8,927.0 L355.2,926.5 L356.8,925.9 L358.2,925.7 L359.8,925.3 L361.2,925.2 L362.8,924.9 L364.2,924.3 L365.8,923.2 L367.2,922.3 L368.8,921.5 L370.2,920.8 L371.8,920.2 L373.2,919.5 L374.8,919.0 L376.2,918.4 L377.8,917.5 L379.2,916.7 L380.8,916.0 L382.2,915.3 L383.8,914.5 L385.2,913.9 L386.8,913.4 L388.2,913.3 L389.8,912.9 L391.2,912.7 L392.8,912.6 L394.2,912.3 L395.8,912.1 L397.2,912.6 L398.8,912.9 L400.2,913.1 L401.8,913.5 L403.2,913.8 L404.8,914.0 L406.2,914.3 L407.8,914.7 L409.2,915.0 L410.8,915.4 L412.2,915.5 L413.8,915.6 L415.2,915.4 L416.8,915.3 L418.2,915.3 L419.8,914.8 L421.2,914.7 L422.8,914.0 L424.2,913.5 L425.8,912.8 L427.2,912.2 L428.8,911.4 L430.2,911.0 L431.8,910.4 L433.2,910.1 L434.8,909.9 L436.2,909.8 L437.8,909.8 L439.2,909.6 L440.8,909.4 L442.2,909.5 L443.8,909.3 L445.2,909.2 L446.8,908.8 L448.2,908.8 L449.8,908.6 L451.2,908.5 L452.8,908.4 L454.2,909.0 L455.8,909.2 L457.2,909.7 L458.8,910.4 L460.2,911.1 L461.8,911.6 L463.2,912.3 L464.8,913.0 L466.2,913.9 L467.8,914.8 L469.2,915.4 L470.8,916.0 L472.2,916.6 L473.8,917.2 L475.2,917.8 L476.8,918.5 L478.2,919.4 L479.8,920.3 L481.2,921.3 L482.8,922.1 L484.2,922.8 L485.8,923.7 L487.2,923.9 L488.8,924.1 L490.2,924.4 L491.8,924.7 L493.2,924.3 L494.8,924.5 L496.2,924.4 L497.8,924.1 L499.2,924.2 L500.8,924.3 L502.2,924.3 L503.8,925.0 L505.2,925.4 L506.8,925.4 L508.2,925.6 L509.8,925.9 L511.2,925.7 L512.8,925.7 L514.2,925.4 L515.8,925.0 L517.2,924.8 L518.8,924.2 L520.2,923.7 L521.8,923.3 L523.2,922.7 L524.8,922.2 L526.2,922.1 L527.8,922.1 L529.2,921.7 L530.8,921.5 L532.2,921.1 L533.8,920.6 L535.2,920.2 L536.8,919.7 L538.2,919.0 L539.8,918.7 L541.2,918.4 L542.8,917.9 L544.2,917.3 L545.8,917.1 L547.2,917.6 L548.8,918.0 L550.2,918.0 L551.8,918.7 L553.2,919.2 L554.8,919.6 L556.2,920.5 L557.8,921.9 L559.2,923.2 L560.8,924.5 L562.2,925.2 L563.8,926.5 L565.2,927.6 L566.8,928.5 L568.2,929.3 L569.8,930.6 L571.2,931.4 L572.8,932.5 L574.2,933.2 L575.8,933.9 L577.2,934.4 L578.8,934.9 L580.2,935.3 L581.8,936.0 L583.2,936.6 L584.8,937.1 L586.2,937.8 L587.8,938.1 L589.2,938.2 L590.8,938.4 L592.2,938.6 L593.8,938.8 L595.2,939.1 L596.8,939.5 L598.2,939.7 L599.8,939.7 L601.2,939.6 L602.8,939.5 L604.2,939.7 L605.8,940.4 L606.0,941.0" fill="none" stroke="#ee640c" stroke-width="2.6" stroke-linejoin="round"/>
<line x1="202" y1="748" x2="202" y2="1046" stroke="#111" stroke-width="1.3" stroke-dasharray="3.4 2.2"/>
<g stroke="#000" stroke-width="2.4">
<line x1="68.6" y1="746.8" x2="68.6" y2="1047.2"/>
<line x1="67.4" y1="1046" x2="606" y2="1046"/>
</g>
<g stroke="#000" stroke-width="2">
<line x1="59.5" y1="1035.9" x2="68" y2="1035.9"/>
<line x1="64.3" y1="1015.3" x2="68" y2="1015.3"/>
<line x1="59.5" y1="994.7" x2="68" y2="994.7"/>
<line x1="64.3" y1="974.2" x2="68" y2="974.2"/>
<line x1="59.5" y1="953.6" x2="68" y2="953.6"/>
<line x1="64.3" y1="933.0" x2="68" y2="933.0"/>
<line x1="59.5" y1="912.5" x2="68" y2="912.5"/>
<line x1="64.3" y1="891.9" x2="68" y2="891.9"/>
<line x1="59.5" y1="871.3" x2="68" y2="871.3"/>
<line x1="64.3" y1="850.8" x2="68" y2="850.8"/>
<line x1="59.5" y1="830.2" x2="68" y2="830.2"/>
<line x1="64.3" y1="809.6" x2="68" y2="809.6"/>
<line x1="59.5" y1="789.0" x2="68" y2="789.0"/>
<line x1="64.3" y1="768.5" x2="68" y2="768.5"/>
<line x1="59.5" y1="747.9" x2="68" y2="747.9"/>
<line x1="67.6" y1="1046" x2="67.6" y2="1053.3"/>
<line x1="134.8" y1="1046" x2="134.8" y2="1050"/>
<line x1="202.0" y1="1046" x2="202.0" y2="1053.3"/>
<line x1="269.2" y1="1046" x2="269.2" y2="1050"/>
<line x1="336.4" y1="1046" x2="336.4" y2="1053.3"/>
<line x1="403.6" y1="1046" x2="403.6" y2="1050"/>
<line x1="470.8" y1="1046" x2="470.8" y2="1053.3"/>
<line x1="538.0" y1="1046" x2="538.0" y2="1050"/>
<line x1="605.2" y1="1046" x2="605.2" y2="1053.3"/>
</g>
<g font-size="19" fill="#111" text-anchor="end">
<text x="54.5" y="1042.6">-2</text>
<text x="54.5" y="1001.4">-1</text>
<text x="54.5" y="960.3">0</text>
<text x="54.5" y="919.2">1</text>
<text x="54.5" y="878.0">2</text>
<text x="54.5" y="836.9">3</text>
<text x="54.5" y="795.7">4</text>
<text x="54.5" y="754.6">5</text>
</g>
<g font-size="20" fill="#111" text-anchor="middle">
<text x="65.6" y="1075.2">-2</text>
<text x="202.0" y="1075.2">0</text>
<text x="336.4" y="1075.2">2</text>
<text x="470.8" y="1075.2">4</text>
<text x="605.2" y="1075.2">6</text>
</g>
<text transform="translate(27.3,901) rotate(-90)" text-anchor="middle" font-size="18" font-weight="bold" fill="#111">ΔF/F</text>
<text x="611" y="1055.2" font-size="16.4" font-weight="bold" fill="#1a1a1a">Time (s)</text>
<line x1="514.5" y1="733.0" x2="552.500" y2="733.0" stroke="#555557" stroke-width="2.9"/>
<text x="557.8" y="737.9" font-size="16.6" font-weight="bold" fill="#1a1a1a">Con</text>
<line x1="514.5" y1="753.8" x2="552.500" y2="753.8" stroke="#e0343a" stroke-width="2.9"/>
<text x="557.8" y="758.7" font-size="16.6" font-weight="bold" fill="#1a1a1a">CFA</text>
<line x1="514.5" y1="775.0" x2="552.500" y2="775.0" stroke="#ee640c" stroke-width="2.9"/>
<text x="557.8" y="779.9" font-size="16.6" font-weight="bold" fill="#1a1a1a">CFA+ZO</text>
</g>
<g id="pD">
<defs><linearGradient id="h1" x1="0" x2="1" y1="0" y2="0"><stop offset="0.0000" stop-color="#249ac1"/><stop offset="1.0000" stop-color="#259cbf"/></linearGradient><linearGradient id="h2" x1="0" x2="1" y1="0" y2="0"><stop offset="0.0000" stop-color="#2498c4"/><stop offset="1.0000" stop-color="#249ac1"/></linearGradient><linearGradient id="h3" x1="0" x2="1" y1="0" y2="0"><stop offset="0.0000" stop-color="#2498c4"/><stop offset="0.4555" stop-color="#2498c4"/><stop offset="1.0000" stop-color="#249ac1"/></linearGradient><linearGradient id="h4" x1="0" x2="1" y1="0" y2="0"><stop offset="0.0000" stop-color="#2395c5"/><stop offset="0.5233" stop-color="#2395c5"/><stop offset="0.5656" stop-color="#1f8ac6"/><stop offset="0.6249" stop-color="#1f8ac6"/><stop offset="0.6672" stop-color="#2395c5"/><stop offset="1.0000" stop-color="#2498c4"/></linearGradient><linearGradient id="h5" x1="0" x2="1" y1="0" y2="0"><stop offset="0.0000" stop-color="#208fc6"/><stop offset="0.2439" stop-color="#208fc6"/><stop offset="0.2693" stop-color="#2498c4"/><stop offset="1.0000" stop-color="#2498c4"/></linearGradient><linearGradient id="h6" x1="0" x2="1" y1="0" y2="0"><stop offset="0.0000" stop-color="#1f8ac6"/><stop offset="0.2015" stop-color="#1f8ac6"/><stop offset="0.2439" stop-color="#2498c4"/><stop offset="0.4217" stop-color="#2498c4"/><stop offset="0.4471" stop-color="#1f8ac6"/><stop offset="0.5064" stop-color="#1f8ac6"/><stop offset="0.5402" stop-color="#2498c4"/><stop offset="1.0000" stop-color="#208fc6"/></linearGradient><linearGradient id="h7" x1="0" x2="1" y1="0" y2="0"><stop offset="0.0000" stop-color="#2498c4"/><stop offset="0.2439" stop-color="#2498c4"/><stop offset="0.2608" stop-color="#208fc6"/><stop offset="0.3370" stop-color="#208fc6"/><stop offset="0.3709" stop-color="#2498c4"/><stop offset="1.0000" stop-color="#2498c4"/></linearGradient><linearGradient id="h8" x1="0" x2="1" y1="0" y2="0"><stop offset="0.0000" stop-color="#249ac1"/><stop offset="0.3539" stop-color="#249ac1"/><stop offset="0.3878" stop-color="#26a4b5"/><stop offset="0.4555" stop-color="#26a4b5"/><stop offset="0.4894" stop-color="#249ac1"/><stop offset="0.6080" stop-color="#2498c4"/><stop offset="0.6418" stop-color="#1f88c5"/><stop offset="0.7434" stop-color="#1f88c5"/><stop offset="0.7773" stop-color="#2498c4"/><stop offset="1.0000" stop-color="#249ac1"/></linearGradient><linearGradient id="h9" x1="0" x2="1" y1="0" y2="0"><stop offset="0.0000" stop-color="#2498c4"/><stop offset="1.0000" stop-color="#2498c4"/></linearGradient><linearGradient id="h10" x1="0" x2="1" y1="0" y2="0"><stop offset="0.0000" stop-color="#208fc6"/><stop offset="0.2439" stop-color="#208fc6"/><stop offset="0.2862" stop-color="#2498c4"/><stop offset="1.0000" stop-color="#259cbf"/></linearGradient><linearGradient id="h11" x1="0" x2="1" y1="0" y2="0"><stop offset="0.0000" stop-color="#30a9ac"/><stop offset="0.2015" stop-color="#30a9ac"/><stop offset="0.2439" stop-color="#259ebc"/><stop offset="0.3370" stop-color="#26a6b2"/><stop offset="0.3878" stop-color="#58b496"/><stop offset="0.4386" stop-color="#7bb884"/><stop offset="0.5064" stop-color="#7bb884"/><stop offset="0.5910" stop-color="#58b496"/><stop offset="0.7096" stop-color="#35aaaa"/><stop offset="0.7350" stop-color="#caba55"/><stop offset="0.7942" stop-color="#deb845"/><stop offset="0.8535" stop-color="#caba55"/><stop offset="0.8789" stop-color="#3fada4"/><stop offset="1.0000" stop-color="#30a9ac"/></linearGradient><linearGradient id="h12" x1="0" x2="1" y1="0" y2="0"><stop offset="0.0000" stop-color="#1c78c4"/><stop offset="0.0999" stop-color="#1c74c2"/><stop offset="0.1338" stop-color="#1e62b8"/><stop offset="0.2269" stop-color="#1e62b8"/><stop offset="0.2523" stop-color="#208fc6"/><stop offset="0.3031" stop-color="#259ebc"/><stop offset="0.3370" stop-color="#4eb19c"/><stop offset="0.4047" stop-color="#4eb19c"/><stop offset="0.4555" stop-color="#26a6b2"/><stop offset="0.7096" stop-color="#26a6b2"/><stop offset="0.7350" stop-color="#1e86c5"/><stop offset="0.9213" stop-color="#1e84c5"/><stop offset="0.9636" stop-color="#1c74c2"/><stop offset="1.0000" stop-color="#1c74c2"/></linearGradient><linearGradient id="h13" x1="0" x2="1" y1="0" y2="0"><stop offset="0.0000" stop-color="#30a9ac"/><stop offset="0.2015" stop-color="#30a9ac"/><stop offset="0.2439" stop-color="#259ebc"/><stop offset="0.2862" stop-color="#2498c4"/><stop offset="0.3201" stop-color="#1e86c5"/><stop offset="0.4894" stop-color="#1e84c5"/><stop offset="0.5233" stop-color="#1c74c2"/><stop offset="0.5910" stop-color="#1c74c2"/><stop offset="0.6249" stop-color="#1e84c5"/><stop offset="0.7096" stop-color="#1e84c5"/><stop offset="0.7434" stop-color="#25a2b7"/><stop offset="1.0000" stop-color="#25a2b7"/></linearGradient><linearGradient id="h14" x1="0" x2="1" y1="0" y2="0"><stop offset="0.0000" stop-color="#1c78c4"/><stop offset="0.0999" stop-color="#1c74c2"/><stop offset="0.1253" stop-color="#1f5ab2"/><stop offset="0.2523" stop-color="#2058b0"/><stop offset="0.2777" stop-color="#208fc6"/><stop offset="0.3031" stop-color="#44aea1"/><stop offset="0.4047" stop-color="#4eb19c"/><stop offset="0.4555" stop-color="#30a9ac"/><stop offset="0.7096" stop-color="#30a9ac"/><stop offset="0.7604" stop-color="#259ebc"/><stop offset="0.8450" stop-color="#25a2b7"/><stop offset="0.8789" stop-color="#58b496"/><stop offset="0.9636" stop-color="#58b496"/><stop offset="1.0000" stop-color="#30a9ac"/></linearGradient><linearGradient id="h15" x1="0" x2="1" y1="0" y2="0"><stop offset="0.0000" stop-color="#1d7dc4"/><stop offset="0.2354" stop-color="#1d7dc4"/><stop offset="0.2693" stop-color="#2498c4"/><stop offset="0.3201" stop-color="#259ebc"/><stop offset="0.3539" stop-color="#30a9ac"/><stop offset="0.5233" stop-color="#3aaca7"/><stop offset="0.5572" stop-color="#75b787"/><stop offset="0.6757" stop-color="#75b787"/><stop offset="0.7096" stop-color="#30a9ac"/><stop offset="0.7942" stop-color="#25a2b7"/><stop offset="0.8196" stop-color="#1c78c4"/><stop offset="1.0000" stop-color="#1c74c2"/></linearGradient><linearGradient id="h16" x1="0" x2="1" y1="0" y2="0"><stop offset="0.0000" stop-color="#2192c5"/><stop offset="0.2439" stop-color="#208fc6"/><stop offset="0.2693" stop-color="#2498c4"/><stop offset="0.7096" stop-color="#249ac1"/><stop offset="1.0000" stop-color="#259ebc"/></linearGradient><linearGradient id="h17" x1="0" x2="1" y1="0" y2="0"><stop offset="0.0000" stop-color="#259cbf"/><stop offset="0.3370" stop-color="#259cbf"/><stop offset="0.3878" stop-color="#3fada4"/><stop offset="0.5064" stop-color="#3fada4"/><stop offset="0.5572" stop-color="#25a2b7"/><stop offset="1.0000" stop-color="#25a2b7"/></linearGradient><linearGradient id="h18" x1="0" x2="1" y1="0" y2="0"><stop offset="0.0000" stop-color="#259ebc"/><stop offset="0.3370" stop-color="#259ebc"/><stop offset="0.3793" stop-color="#58b496"/><stop offset="0.4725" stop-color="#58b496"/><stop offset="0.5064" stop-color="#30a9ac"/><stop offset="0.7096" stop-color="#26a6b2"/><stop offset="0.7604" stop-color="#259ebc"/><stop offset="1.0000" stop-color="#25a0ba"/></linearGradient><linearGradient id="h19" x1="0" x2="1" y1="0" y2="0"><stop offset="0.0000" stop-color="#1e86c5"/><stop offset="0.2439" stop-color="#1e84c5"/><stop offset="0.2693" stop-color="#2498c4"/><stop offset="0.6926" stop-color="#2498c4"/><stop offset="0.7180" stop-color="#208dc6"/><stop offset="0.8789" stop-color="#208dc6"/><stop offset="0.9128" stop-color="#2498c4"/><stop offset="1.0000" stop-color="#2498c4"/></linearGradient><linearGradient id="h20" x1="0" x2="1" y1="0" y2="0"><stop offset="0.0000" stop-color="#259cbf"/><stop offset="0.2608" stop-color="#259cbf"/><stop offset="0.2947" stop-color="#2ba7af"/><stop offset="0.4555" stop-color="#2ba7af"/><stop offset="0.5064" stop-color="#249ac1"/><stop offset="1.0000" stop-color="#2498c4"/></linearGradient><linearGradient id="h21" x1="0" x2="1" y1="0" y2="0"><stop offset="0.0000" stop-color="#259ebc"/><stop offset="0.1846" stop-color="#259ebc"/><stop offset="0.2100" stop-color="#208fc6"/><stop offset="0.3201" stop-color="#208fc6"/><stop offset="0.3455" stop-color="#58b496"/><stop offset="0.3709" stop-color="#deb845"/><stop offset="0.4555" stop-color="#e4b840"/><stop offset="0.6418" stop-color="#e4b840"/><stop offset="0.6672" stop-color="#75b787"/><stop offset="0.6884" stop-color="#1d6dbe"/><stop offset="0.9297" stop-color="#1d6bbd"/><stop offset="0.9551" stop-color="#2058b0"/><stop offset="1.0000" stop-color="#2058b0"/></linearGradient><linearGradient id="h22" x1="0" x2="1" y1="0" y2="0"><stop offset="0.0000" stop-color="#25a2b7"/><stop offset="0.2354" stop-color="#25a2b7"/><stop offset="0.2608" stop-color="#58b496"/><stop offset="0.3709" stop-color="#64b590"/><stop offset="0.3963" stop-color="#d4b94d"/><stop offset="0.4386" stop-color="#f3e12d"/><stop offset="0.6588" stop-color="#f4e62c"/><stop offset="0.7096" stop-color="#efd331"/><stop offset="0.7604" stop-color="#f2df2e"/><stop offset="1.0000" stop-color="#f4e62c"/></linearGradient><linearGradient id="h23" x1="0" x2="1" y1="0" y2="0"><stop offset="0.0000" stop-color="#1f5eb5"/><stop offset="0.0745" stop-color="#2058b0"/><stop offset="0.0999" stop-color="#2a3395"/><stop offset="0.2015" stop-color="#2a3395"/><stop offset="0.2354" stop-color="#2058b0"/><stop offset="0.2608" stop-color="#208fc6"/><stop offset="0.3031" stop-color="#249ac1"/><stop offset="0.3285" stop-color="#44aea1"/><stop offset="0.4047" stop-color="#44aea1"/><stop offset="0.4386" stop-color="#1d7dc4"/><stop offset="0.6757" stop-color="#1c78c4"/><stop offset="0.7096" stop-color="#2052ab"/><stop offset="0.8620" stop-color="#214ea8"/><stop offset="0.8959" stop-color="#293192"/><stop offset="1.0000" stop-color="#292f90"/></linearGradient><linearGradient id="h24" x1="0" x2="1" y1="0" y2="0"><stop offset="0.0000" stop-color="#30a9ac"/><stop offset="0.0576" stop-color="#30a9ac"/><stop offset="0.0830" stop-color="#58b496"/><stop offset="0.1423" stop-color="#58b496"/><stop offset="0.1677" stop-color="#26a6b2"/><stop offset="0.3031" stop-color="#30a9ac"/><stop offset="0.3370" stop-color="#deb845"/><stop offset="0.4555" stop-color="#e6bc3d"/><stop offset="0.6418" stop-color="#e4b840"/><stop offset="0.6757" stop-color="#75b787"/><stop offset="0.7180" stop-color="#44aea1"/><stop offset="1.0000" stop-color="#26a6b2"/></linearGradient><linearGradient id="h25" x1="0" x2="1" y1="0" y2="0"><stop offset="0.0000" stop-color="#30a9ac"/><stop offset="0.0576" stop-color="#3aaca7"/><stop offset="0.0830" stop-color="#86b97e"/><stop offset="0.1507" stop-color="#86b97e"/><stop offset="0.1761" stop-color="#3fada4"/><stop offset="0.2777" stop-color="#4eb19c"/><stop offset="0.3031" stop-color="#deb845"/><stop offset="0.3243" stop-color="#f3e12d"/><stop offset="0.6080" stop-color="#f4e62c"/><stop offset="0.6418" stop-color="#caba55"/><stop offset="0.6757" stop-color="#86b97e"/><stop offset="0.7180" stop-color="#58b496"/><stop offset="0.8281" stop-color="#3fada4"/><stop offset="0.8535" stop-color="#64b590"/><stop offset="0.8789" stop-color="#58b496"/><stop offset="0.9043" stop-color="#3aaca7"/><stop offset="1.0000" stop-color="#3aaca7"/></linearGradient><linearGradient id="h26" x1="0" x2="1" y1="0" y2="0"><stop offset="0.0000" stop-color="#208fc6"/><stop offset="0.0449" stop-color="#1f8ac6"/><stop offset="0.0618" stop-color="#1e62b8"/><stop offset="0.3370" stop-color="#1e62b8"/><stop offset="0.3709" stop-color="#214ea8"/><stop offset="0.5402" stop-color="#214ea8"/><stop offset="0.5656" stop-color="#1d6dbe"/><stop offset="0.5910" stop-color="#1c74c2"/><stop offset="0.6249" stop-color="#26a6b2"/><stop offset="0.6757" stop-color="#58b496"/><stop offset="0.7096" stop-color="#58b496"/><stop offset="0.7434" stop-color="#2498c4"/><stop offset="0.7773" stop-color="#1e84c5"/><stop offset="0.8620" stop-color="#1e84c5"/><stop offset="0.8959" stop-color="#2498c4"/><stop offset="1.0000" stop-color="#2498c4"/></linearGradient><linearGradient id="h27" x1="0" x2="1" y1="0" y2="0"><stop offset="0.0000" stop-color="#259ebc"/><stop offset="0.2439" stop-color="#259ebc"/><stop offset="0.2777" stop-color="#58b496"/><stop offset="0.4555" stop-color="#58b496"/><stop offset="0.4979" stop-color="#75b787"/><stop offset="0.5318" stop-color="#9cba72"/><stop offset="0.5826" stop-color="#9cba72"/><stop offset="0.6249" stop-color="#44aea1"/><stop offset="0.7942" stop-color="#3fada4"/><stop offset="0.8366" stop-color="#26a6b2"/><stop offset="1.0000" stop-color="#26a6b2"/></linearGradient><linearGradient id="h28" x1="0" x2="1" y1="0" y2="0"><stop offset="0.0000" stop-color="#208fc6"/><stop offset="0.2439" stop-color="#208fc6"/><stop offset="0.2693" stop-color="#3fada4"/><stop offset="0.3709" stop-color="#44aea1"/><stop offset="0.3920" stop-color="#abba69"/><stop offset="0.4555" stop-color="#abba69"/><stop offset="0.4809" stop-color="#30a9ac"/><stop offset="0.5741" stop-color="#26a6b2"/><stop offset="0.5995" stop-color="#1d7dc4"/><stop offset="1.0000" stop-color="#1d7dc4"/></linearGradient><linearGradient id="h29" x1="0" x2="1" y1="0" y2="0"><stop offset="0.0000" stop-color="#1d6dbe"/><stop offset="0.2608" stop-color="#1d6dbe"/><stop offset="0.2862" stop-color="#259ebc"/><stop offset="0.5402" stop-color="#259ebc"/><stop offset="0.5826" stop-color="#92ba78"/><stop offset="0.6757" stop-color="#92ba78"/><stop offset="0.7011" stop-color="#30a9ac"/><stop offset="0.7265" stop-color="#30a9ac"/><stop offset="0.7477" stop-color="#92ba78"/><stop offset="0.7942" stop-color="#92ba78"/><stop offset="0.8196" stop-color="#30a9ac"/><stop offset="0.9043" stop-color="#3aaca7"/><stop offset="0.9297" stop-color="#64b590"/><stop offset="1.0000" stop-color="#64b590"/></linearGradient><linearGradient id="h30" x1="0" x2="1" y1="0" y2="0"><stop offset="0.0000" stop-color="#26a6b2"/><stop offset="0.2354" stop-color="#26a6b2"/><stop offset="0.2608" stop-color="#75b787"/><stop offset="0.2862" stop-color="#baba60"/><stop offset="0.5741" stop-color="#baba60"/><stop offset="0.5995" stop-color="#64b590"/><stop offset="0.8789" stop-color="#58b496"/><stop offset="0.9213" stop-color="#92ba78"/><stop offset="1.0000" stop-color="#9cba72"/></linearGradient><linearGradient id="h31" x1="0" x2="1" y1="0" y2="0"><stop offset="0.0000" stop-color="#249ac1"/><stop offset="0.4217" stop-color="#249ac1"/><stop offset="0.4555" stop-color="#26a6b2"/><stop offset="0.6249" stop-color="#26a6b2"/><stop offset="0.6672" stop-color="#249ac1"/><stop offset="1.0000" stop-color="#259cbf"/></linearGradient><linearGradient id="h32" x1="0" x2="1" y1="0" y2="0"><stop offset="0.0000" stop-color="#2498c4"/><stop offset="1.0000" stop-color="#249ac1"/></linearGradient><linearGradient id="h33" x1="0" x2="1" y1="0" y2="0"><stop offset="0.0000" stop-color="#2498c4"/><stop offset="1.0000" stop-color="#2498c4"/></linearGradient><linearGradient id="h34" x1="0" x2="1" y1="0" y2="0"><stop offset="0.0000" stop-color="#208fc6"/><stop offset="0.5402" stop-color="#208fc6"/><stop offset="0.7942" stop-color="#208dc6"/><stop offset="1.0000" stop-color="#2192c5"/></linearGradient><linearGradient id="h35" x1="0" x2="1" y1="0" y2="0"><stop offset="0.0000" stop-color="#208fc6"/><stop offset="0.1169" stop-color="#208fc6"/><stop offset="0.1507" stop-color="#2498c4"/><stop offset="1.0000" stop-color="#2498c4"/></linearGradient><linearGradient id="h36" x1="0" x2="1" y1="0" y2="0"><stop offset="0.0000" stop-color="#30a9ac"/><stop offset="0.0999" stop-color="#30a9ac"/><stop offset="0.1211" stop-color="#1c78c4"/><stop offset="0.2185" stop-color="#1c78c4"/><stop offset="0.2396" stop-color="#259ebc"/><stop offset="0.3201" stop-color="#25a2b7"/><stop offset="0.3455" stop-color="#75b787"/><stop offset="0.4725" stop-color="#75b787"/><stop offset="0.4979" stop-color="#30a9ac"/><stop offset="0.6249" stop-color="#3aaca7"/><stop offset="0.6503" stop-color="#c4ba5a"/><stop offset="0.7942" stop-color="#d7b94a"/><stop offset="0.8789" stop-color="#deb845"/><stop offset="1.0000" stop-color="#caba55"/></linearGradient><linearGradient id="h37" x1="0" x2="1" y1="0" y2="0"><stop offset="0.0000" stop-color="#26a6b2"/><stop offset="0.2185" stop-color="#25a2b7"/><stop offset="0.3539" stop-color="#25a2b7"/><stop offset="0.3878" stop-color="#75b787"/><stop offset="0.5064" stop-color="#75b787"/><stop offset="0.5402" stop-color="#30a9ac"/><stop offset="0.7096" stop-color="#26a6b2"/><stop offset="1.0000" stop-color="#25a2b7"/></linearGradient><linearGradient id="h38" x1="0" x2="1" y1="0" y2="0"><stop offset="0.0000" stop-color="#2498c4"/><stop offset="0.0322" stop-color="#2498c4"/><stop offset="0.0449" stop-color="#1d7dc4"/><stop offset="0.2185" stop-color="#1d7dc4"/><stop offset="0.2354" stop-color="#2498c4"/><stop offset="0.2608" stop-color="#2498c4"/><stop offset="0.2777" stop-color="#1c78c4"/><stop offset="0.4555" stop-color="#1c78c4"/><stop offset="0.4809" stop-color="#1d6bbd"/><stop offset="0.5402" stop-color="#1d6bbd"/><stop offset="0.5656" stop-color="#1c78c4"/><stop offset="0.5910" stop-color="#1d7dc4"/><stop offset="0.6164" stop-color="#2498c4"/><stop offset="1.0000" stop-color="#2498c4"/></linearGradient><linearGradient id="h39" x1="0" x2="1" y1="0" y2="0"><stop offset="0.0000" stop-color="#25a2b7"/><stop offset="0.0999" stop-color="#25a2b7"/><stop offset="0.1253" stop-color="#4eb19c"/><stop offset="0.2015" stop-color="#4eb19c"/><stop offset="0.2269" stop-color="#259ebc"/><stop offset="0.6080" stop-color="#259ebc"/><stop offset="0.6334" stop-color="#1e84c5"/><stop offset="0.7604" stop-color="#1e84c5"/><stop offset="0.7858" stop-color="#259ebc"/><stop offset="1.0000" stop-color="#259ebc"/></linearGradient><linearGradient id="h40" x1="0" x2="1" y1="0" y2="0"><stop offset="0.0000" stop-color="#1c74c2"/><stop offset="0.2523" stop-color="#1d6dbe"/><stop offset="0.6249" stop-color="#1c74c2"/><stop offset="0.6503" stop-color="#2498c4"/><stop offset="0.7773" stop-color="#2498c4"/><stop offset="0.7985" stop-color="#1d7dc4"/><stop offset="0.8450" stop-color="#1d7dc4"/><stop offset="0.8662" stop-color="#2498c4"/><stop offset="0.9128" stop-color="#2498c4"/><stop offset="0.9340" stop-color="#1c78c4"/><stop offset="1.0000" stop-color="#1c78c4"/></linearGradient><linearGradient id="h41" x1="0" x2="1" y1="0" y2="0"><stop offset="0.0000" stop-color="#25a2b7"/><stop offset="0.5910" stop-color="#26a6b2"/><stop offset="0.6249" stop-color="#64b590"/><stop offset="0.7434" stop-color="#64b590"/><stop offset="0.7773" stop-color="#30a9ac"/><stop offset="1.0000" stop-color="#30a9ac"/></linearGradient><linearGradient id="h42" x1="0" x2="1" y1="0" y2="0"><stop offset="0.0000" stop-color="#3fada4"/><stop offset="0.5402" stop-color="#44aea1"/><stop offset="0.5741" stop-color="#9cba72"/><stop offset="0.7942" stop-color="#9cba72"/><stop offset="0.8281" stop-color="#75b787"/><stop offset="1.0000" stop-color="#75b787"/></linearGradient><linearGradient id="h43" x1="0" x2="1" y1="0" y2="0"><stop offset="0.0000" stop-color="#208fc6"/><stop offset="0.0237" stop-color="#208fc6"/><stop offset="0.0364" stop-color="#1d7dc4"/><stop offset="0.1592" stop-color="#1d7dc4"/><stop offset="0.1846" stop-color="#2498c4"/><stop offset="0.4555" stop-color="#259cbf"/><stop offset="0.7604" stop-color="#249ac1"/><stop offset="0.7815" stop-color="#1d7dc4"/><stop offset="0.8789" stop-color="#1d7dc4"/><stop offset="0.9043" stop-color="#208fc6"/><stop offset="1.0000" stop-color="#208fc6"/></linearGradient><linearGradient id="h44" x1="0" x2="1" y1="0" y2="0"><stop offset="0.0000" stop-color="#2498c4"/><stop offset="0.2439" stop-color="#2498c4"/><stop offset="0.2650" stop-color="#75b787"/><stop offset="0.4047" stop-color="#75b787"/><stop offset="0.4301" stop-color="#3fada4"/><stop offset="0.7096" stop-color="#3fada4"/><stop offset="0.7434" stop-color="#259ebc"/><stop offset="1.0000" stop-color="#259ebc"/></linearGradient><linearGradient id="h45" x1="0" x2="1" y1="0" y2="0"><stop offset="0.0000" stop-color="#1f88c5"/><stop offset="1.0000" stop-color="#1e84c5"/></linearGradient>
<pattern id="vst" width="4.2" height="8" patternUnits="userSpaceOnUse"><rect x="0" y="0" width="1.1" height="8" fill="#1a5fb0" fill-opacity="0.16"/><rect x="2.1" y="0" width="1" height="8" fill="#8fe0d0" fill-opacity="0.07"/></pattern>
</defs>
<text x="667" y="673" font-size="44.5" fill="#231815">D</text>
<rect x="736.3" y="712.90" width="337.4" height="8.70" fill="url(#h1)"/>
<rect x="736.3" y="720.90" width="337.4" height="8.70" fill="url(#h2)"/>
<rect x="736.3" y="728.90" width="337.4" height="8.70" fill="url(#h3)"/>
<rect x="736.3" y="736.90" width="337.4" height="8.70" fill="url(#h4)"/>
<rect x="736.3" y="744.90" width="337.4" height="8.70" fill="url(#h5)"/>
<rect x="736.3" y="752.90" width="337.4" height="8.70" fill="url(#h6)"/>
<rect x="736.3" y="760.90" width="337.4" height="8.70" fill="url(#h7)"/>
<rect x="736.3" y="768.90" width="337.4" height="8.70" fill="url(#h8)"/>
<rect x="736.3" y="776.90" width="337.4" height="8.70" fill="url(#h9)"/>
<rect x="736.3" y="784.90" width="337.4" height="8.70" fill="url(#h10)"/>
<rect x="736.3" y="792.90" width="337.4" height="8.70" fill="url(#h11)"/>
<rect x="736.3" y="800.90" width="337.4" height="8.70" fill="url(#h12)"/>
<rect x="736.3" y="808.90" width="337.4" height="8.70" fill="url(#h13)"/>
<rect x="736.3" y="816.90" width="337.4" height="8.70" fill="url(#h14)"/>
<rect x="736.3" y="824.90" width="337.4" height="8.00" fill="url(#h15)"/>
<rect x="736.3" y="837.90" width="337.4" height="8.77" fill="url(#h16)"/>
<rect x="736.3" y="845.97" width="337.4" height="8.77" fill="url(#h17)"/>
<rect x="736.3" y="854.05" width="337.4" height="8.77" fill="url(#h18)"/>
<rect x="736.3" y="862.12" width="337.4" height="8.77" fill="url(#h19)"/>
<rect x="736.3" y="870.19" width="337.4" height="8.77" fill="url(#h20)"/>
<rect x="736.3" y="878.27" width="337.4" height="8.77" fill="url(#h21)"/>
<rect x="736.3" y="886.34" width="337.4" height="8.77" fill="url(#h22)"/>
<rect x="736.3" y="894.41" width="337.4" height="8.77" fill="url(#h23)"/>
<rect x="736.3" y="902.49" width="337.4" height="8.77" fill="url(#h24)"/>
<rect x="736.3" y="910.56" width="337.4" height="8.77" fill="url(#h25)"/>
<rect x="736.3" y="918.63" width="337.4" height="8.77" fill="url(#h26)"/>
<rect x="736.3" y="926.71" width="337.4" height="8.77" fill="url(#h27)"/>
<rect x="736.3" y="934.78" width="337.4" height="8.77" fill="url(#h28)"/>
<rect x="736.3" y="942.85" width="337.4" height="8.77" fill="url(#h29)"/>
<rect x="736.3" y="950.93" width="337.4" height="8.07" fill="url(#h30)"/>
<rect x="736.3" y="967.00" width="337.4" height="8.66" fill="url(#h31)"/>
<rect x="736.3" y="974.96" width="337.4" height="8.66" fill="url(#h32)"/>
<rect x="736.3" y="982.92" width="337.4" height="8.66" fill="url(#h33)"/>
<rect x="736.3" y="990.88" width="337.4" height="8.66" fill="url(#h34)"/>
<rect x="736.3" y="998.84" width="337.4" height="8.66" fill="url(#h35)"/>
<rect x="736.3" y="1006.80" width="337.4" height="8.66" fill="url(#h36)"/>
<rect x="736.3" y="1014.76" width="337.4" height="8.66" fill="url(#h37)"/>
<rect x="736.3" y="1022.72" width="337.4" height="8.66" fill="url(#h38)"/>
<rect x="736.3" y="1030.68" width="337.4" height="8.66" fill="url(#h39)"/>
<rect x="736.3" y="1038.64" width="337.4" height="8.66" fill="url(#h40)"/>
<rect x="736.3" y="1046.60" width="337.4" height="8.66" fill="url(#h41)"/>
<rect x="736.3" y="1054.56" width="337.4" height="8.66" fill="url(#h42)"/>
<rect x="736.3" y="1062.52" width="337.4" height="8.66" fill="url(#h43)"/>
<rect x="736.3" y="1070.48" width="337.4" height="8.66" fill="url(#h44)"/>
<rect x="736.3" y="1078.44" width="337.4" height="7.96" fill="url(#h45)"/>
<rect x="736.3" y="958.4" width="79.4" height="1.8" fill="#26a6b2"/>
<rect x="792.9" y="958.4" width="25.7" height="1.8" fill="#292e8f"/>
<rect x="824.3" y="958.4" width="249.4" height="1.8" fill="#f0d530"/>
<rect x="736.3" y="712.9" width="337.4" height="120.0" fill="url(#vst)"/>
<rect x="736.3" y="837.9" width="337.4" height="122.3" fill="url(#vst)"/>
<rect x="736.3" y="967.0" width="337.4" height="119.4" fill="url(#vst)"/>
<line x1="820.6" y1="711" x2="820.6" y2="1087" stroke="#1d2f4a" stroke-width="1" stroke-dasharray="1.4 1.3" opacity="0.85"/>
<rect x="703.2" y="709.3" width="27.6" height="123.0" fill="#fff" stroke="#231815" stroke-width="2.2"/>
<text transform="translate(725,775.2) rotate(-90)" text-anchor="middle" font-size="22" fill="#1a1a1a">Con</text>
<rect x="703.2" y="836.6" width="27.6" height="124.0" fill="#fff" stroke="#231815" stroke-width="2.2"/>
<text transform="translate(725,900.3) rotate(-90)" text-anchor="middle" font-size="22" fill="#1a1a1a">CFA</text>
<rect x="703.2" y="960.6" width="27.6" height="126.6" fill="#fff" stroke="#231815" stroke-width="2.2"/>
<text transform="translate(725,1022.8) rotate(-90)" text-anchor="middle" font-size="22" fill="#1a1a1a">CFA+ZO</text>
<defs><linearGradient id="cbar" x1="0" x2="0" y1="1" y2="0">
<stop offset="0.00" stop-color="#214ea8"/>
<stop offset="0.10" stop-color="#1e62b8"/>
<stop offset="0.20" stop-color="#1c78c4"/>
<stop offset="0.30" stop-color="#208fc6"/>
<stop offset="0.40" stop-color="#26a6b2"/>
<stop offset="0.50" stop-color="#58b496"/>
<stop offset="0.60" stop-color="#92ba78"/>
<stop offset="0.70" stop-color="#c4ba5a"/>
<stop offset="0.80" stop-color="#e4b840"/>
<stop offset="0.90" stop-color="#eece32"/>
<stop offset="1.00" stop-color="#f4e62c"/>
</linearGradient></defs>
<rect x="1093.4" y="732.4" width="7.6" height="324" fill="url(#cbar)"/>
<rect x="1104.3" y="731.8" width="7.5" height="2.4" fill="#8a8a8a"/>
<rect x="1104.3" y="796.5" width="7.5" height="2.4" fill="#8a8a8a"/>
<rect x="1104.3" y="861.2" width="7.5" height="2.4" fill="#8a8a8a"/>
<rect x="1104.3" y="925.9" width="7.5" height="2.4" fill="#8a8a8a"/>
<rect x="1104.3" y="990.6" width="7.5" height="2.4" fill="#8a8a8a"/>
<rect x="1104.3" y="1055.3" width="7.5" height="2.4" fill="#8a8a8a"/>
<text x="1116" y="737.3" font-size="11.5" fill="#222">10</text>
<text x="1115.5" y="1060.5" font-size="11.5" fill="#222">- 5</text>
</g>
<g id="pE">
<text x="1146.5" y="673" font-size="45" fill="#231815">E</text>
<g stroke="#231815" stroke-width="3.1">
<line x1="1258.2" y1="758.2" x2="1310.8" y2="758.2"/>
<line x1="1310" y1="703.7" x2="1362.3" y2="703.7"/>
</g>
<g stroke="#1a1a1a" stroke-width="2.5" stroke-linecap="butt">
<line x1="1278.3" y1="736.1" x2="1278.3" y2="747.3"/><line x1="1283.1" y1="738.9" x2="1273.5" y2="744.5"/><line x1="1283.1" y1="744.5" x2="1273.5" y2="738.9"/>
<line x1="1292.3" y1="736.1" x2="1292.3" y2="747.3"/><line x1="1297.1" y1="738.9" x2="1287.5" y2="744.5"/><line x1="1297.1" y1="744.5" x2="1287.5" y2="738.9"/>
<line x1="1321.5" y1="681.7" x2="1321.5" y2="692.9"/><line x1="1326.3" y1="684.5" x2="1316.7" y2="690.1"/><line x1="1326.3" y1="690.1" x2="1316.7" y2="684.5"/>
<line x1="1336.4" y1="681.7" x2="1336.4" y2="692.9"/><line x1="1341.2" y1="684.5" x2="1331.6" y2="690.1"/><line x1="1341.2" y1="690.1" x2="1331.6" y2="684.5"/>
<line x1="1351.3" y1="681.7" x2="1351.3" y2="692.9"/><line x1="1356.1" y1="684.5" x2="1346.5" y2="690.1"/><line x1="1356.1" y1="690.1" x2="1346.5" y2="684.5"/>
</g>
<rect x="1294.5" y="892" width="31.800" height="52.400" fill="#fff" stroke="#e0343f" stroke-width="2.8"/>
<g stroke="#e0343f" stroke-width="1.5"><line x1="1310.8" y1="834.6" x2="1310.8" y2="944"/><line x1="1300.4" y1="834.6" x2="1319.2" y2="834.6"/></g>
<g stroke="#9c9ca0" stroke-width="1.5"><line x1="1259" y1="921" x2="1259" y2="951"/><line x1="1251" y1="941" x2="1267" y2="941"/></g>
<line x1="1225" y1="944.4" x2="1397.500" y2="944.4" stroke="#231815" stroke-width="2.6"/>
<g stroke="#231815" stroke-width="2.8">
<line x1="1225.2" y1="770" x2="1225.2" y2="1031.2"/>
<line x1="1214.5" y1="1030" x2="1397.500" y2="1030"/>
<line x1="1214.5" y1="772.2" x2="1225" y2="772.2"/>
<line x1="1214.5" y1="858.3" x2="1225" y2="858.3"/>
<line x1="1214.5" y1="944.4" x2="1225" y2="944.4"/>
<line x1="1259.0" y1="1030" x2="1259.0" y2="1041.5"/>
<line x1="1310.8" y1="1030" x2="1310.8" y2="1041.5"/>
<line x1="1362.1" y1="1030" x2="1362.1" y2="1041.5"/>
</g>
<g font-size="18.6" font-weight="bold" fill="#1a1a1a" text-anchor="end">
<text x="1210.6" y="779.2">10</text>
<text x="1210.6" y="865.3">5</text>
<text x="1210.6" y="951.4">0</text>
<text x="1210.6" y="1037.5">-5</text>
</g>
<text transform="translate(1176,900.8) rotate(-90)" text-anchor="middle" font-size="23" textLength="46.7" lengthAdjust="spacingAndGlyphs" font-weight="bold" fill="#1a1a1a">ΔF/F</text>
<rect x="1256.8" y="913.2" width="7.6" height="7.6" rx="2.6" fill="#a3a3a7"/>
<rect x="1248.8" y="920.1" width="7.6" height="7.6" rx="2.6" fill="#a3a3a7"/>
<rect x="1261.4" y="919.6" width="7.6" height="7.6" rx="2.6" fill="#a3a3a7"/>
<rect x="1253.4" y="930.3" width="7.6" height="7.6" rx="2.6" fill="#a3a3a7"/>
<rect x="1268.9" y="931.5" width="7.6" height="7.6" rx="2.6" fill="#a3a3a7"/>
<rect x="1240.9" y="937.9" width="7.6" height="7.6" rx="2.6" fill="#a3a3a7"/>
<rect x="1246.6" y="938.3" width="7.6" height="7.6" rx="2.6" fill="#a3a3a7"/>
<rect x="1252.3" y="937.9" width="7.6" height="7.6" rx="2.6" fill="#a3a3a7"/>
<rect x="1258.0" y="938.3" width="7.6" height="7.6" rx="2.6" fill="#a3a3a7"/>
<rect x="1263.7" y="937.9" width="7.6" height="7.6" rx="2.6" fill="#a3a3a7"/>
<rect x="1269.4" y="937.9" width="7.6" height="7.6" rx="2.6" fill="#a3a3a7"/>
<rect x="1248.8" y="944.0" width="7.6" height="7.6" rx="2.6" fill="#a3a3a7"/>
<rect x="1255.7" y="944.0" width="7.6" height="7.6" rx="2.6" fill="#a3a3a7"/>
<rect x="1262.5" y="944.0" width="7.6" height="7.6" rx="2.6" fill="#a3a3a7"/>
<rect x="1269.4" y="943.6" width="7.6" height="7.6" rx="2.6" fill="#a3a3a7"/>
<rect x="1255.2" y="951.5" width="7.6" height="7.6" rx="2.6" fill="#a3a3a7"/>
<circle cx="1310.6" cy="789.1" r="3.9" fill="#e0343f"/>
<circle cx="1306.3" cy="818.4" r="3.9" fill="#e0343f"/>
<circle cx="1314.9" cy="822.8" r="3.9" fill="#e0343f"/>
<circle cx="1310.6" cy="854.0" r="3.9" fill="#e0343f"/>
<circle cx="1306.2" cy="878.7" r="3.9" fill="#e0343f"/>
<circle cx="1296.4" cy="884.0" r="3.9" fill="#e0343f"/>
<circle cx="1323.8" cy="888.5" r="3.9" fill="#e0343f"/>
<circle cx="1306.2" cy="891.9" r="3.9" fill="#e0343f"/>
<circle cx="1323.8" cy="901.5" r="3.9" fill="#e0343f"/>
<circle cx="1297.1" cy="903.3" r="3.9" fill="#e0343f"/>
<circle cx="1306.2" cy="907.4" r="3.9" fill="#e0343f"/>
<circle cx="1314.7" cy="907.9" r="3.9" fill="#e0343f"/>
<circle cx="1306.2" cy="944.9" r="3.9" fill="#e0343f"/>
<circle cx="1314.7" cy="951.9" r="3.9" fill="#e0343f"/>
<circle cx="1310.4" cy="1007.1" r="3.4" fill="#e0343f"/>
<g stroke="#ee6a10" stroke-width="1.5"><line x1="1362.1" y1="918.9" x2="1362.1" y2="962.2"/><line x1="1353.7" y1="918.9" x2="1370.1" y2="918.9"/><line x1="1353.7" y1="962.2" x2="1370.1" y2="962.2"/><line x1="1345.7" y1="938.7" x2="1378.8" y2="938.7"/></g>
<circle cx="1362.1" cy="900.6" r="3.9" fill="#ee6a10"/>
<circle cx="1362.1" cy="907.9" r="3.9" fill="#ee6a10"/>
<circle cx="1362.1" cy="915.9" r="3.9" fill="#ee6a10"/>
<circle cx="1362.1" cy="923.9" r="3.9" fill="#ee6a10"/>
<circle cx="1348.9" cy="933.0" r="3.9" fill="#ee6a10"/>
<circle cx="1366.2" cy="935.3" r="3.9" fill="#ee6a10"/>
<circle cx="1357.6" cy="939.4" r="3.9" fill="#ee6a10"/>
<circle cx="1375.8" cy="940.3" r="3.9" fill="#ee6a10"/>
<circle cx="1348.4" cy="946.7" r="3.9" fill="#ee6a10"/>
<circle cx="1357.6" cy="947.8" r="3.9" fill="#ee6a10"/>
<circle cx="1366.2" cy="947.8" r="3.9" fill="#ee6a10"/>
<circle cx="1357.6" cy="962.6" r="3.9" fill="#ee6a10"/>
<circle cx="1375.8" cy="966.1" r="3.9" fill="#ee6a10"/>
<circle cx="1348.9" cy="970.2" r="3.9" fill="#ee6a10"/>
<circle cx="1366.2" cy="970.2" r="3.9" fill="#ee6a10"/>
<g font-size="18.3" font-weight="bold" fill="#1a1a1a" text-anchor="end">
<text transform="translate(1264.5,1060.5) rotate(-45)">Con</text>
<text transform="translate(1318,1060.5) rotate(-45)">CFA</text>
<text transform="translate(1366,1060.5) rotate(-45)">CFA+ZO</text>
</g>
</g>
</svg>
</body></html>
